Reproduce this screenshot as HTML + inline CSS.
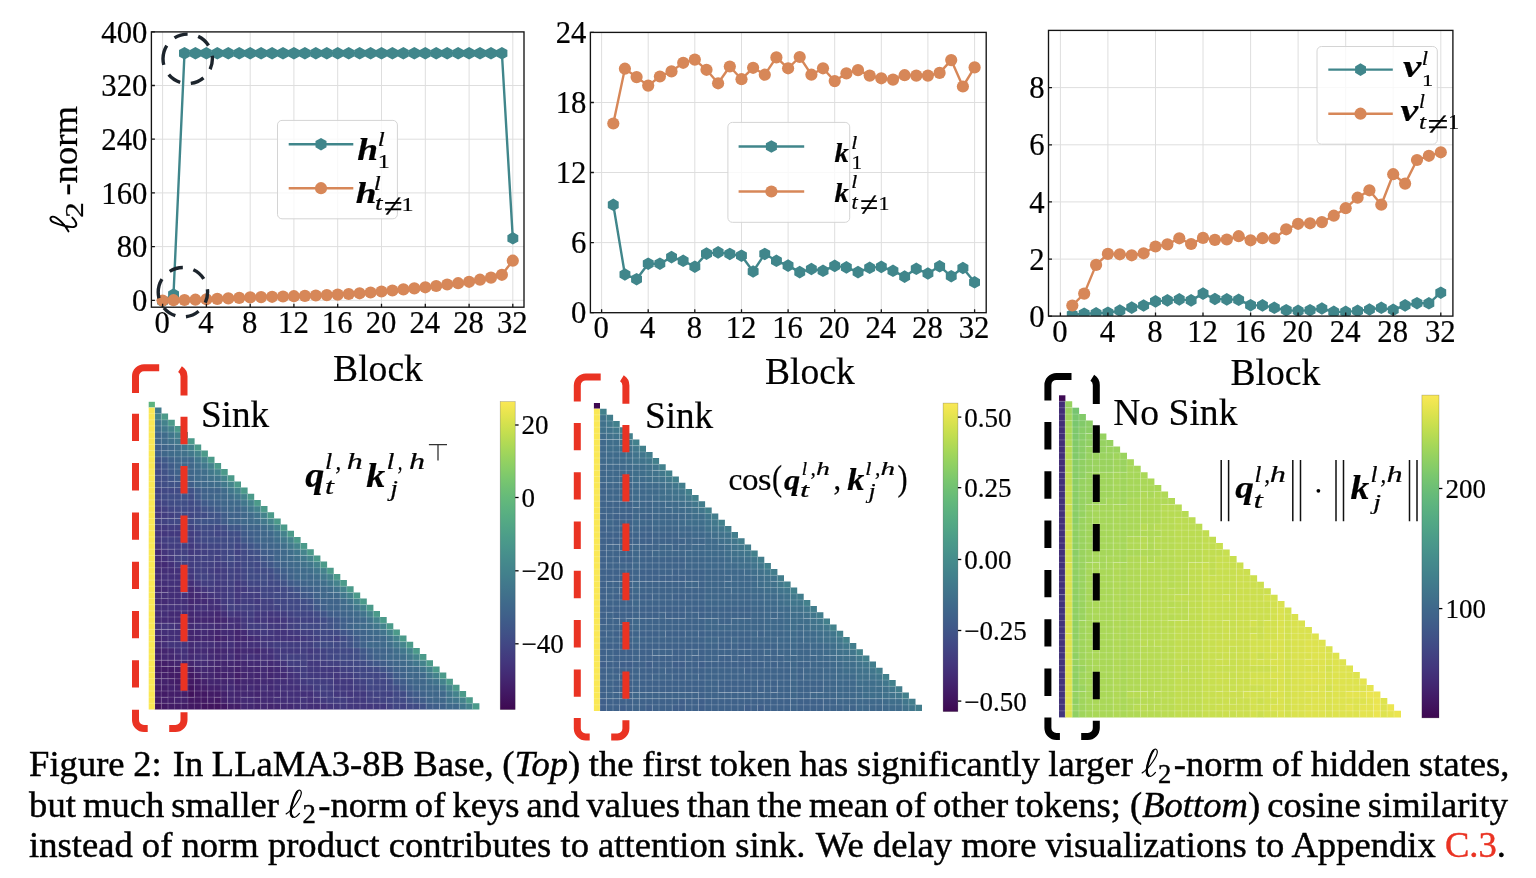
<!DOCTYPE html>
<html><head><meta charset="utf-8"><title>Figure 2</title>
<style>
html,body{margin:0;padding:0;background:#fff;}
svg,.cap{will-change:opacity;opacity:0.999;}
svg text{stroke:#000;stroke-width:0.22px;}
body{width:1536px;height:878px;position:relative;overflow:hidden;font-family:"Liberation Serif",serif;}
.cap{-webkit-text-stroke:0.45px #000;position:absolute;left:29.1px;font-size:36.6px;line-height:40px;height:40px;white-space:nowrap;color:#000;}
.cap sub{font-size:26.6px;vertical-align:baseline;position:relative;top:6.7px;line-height:0;margin-left:1px;margin-right:2.6px;}
.cap svg.ell{vertical-align:-2px;overflow:visible;opacity:1;will-change:auto;}
.cap .m{white-space:nowrap}
</style></head><body>
<svg width="1536" height="878" viewBox="0 0 1536 878" style="position:absolute;left:0;top:0" font-family="'Liberation Serif', serif" fill="#000">
<g>
<path d="M162.6,31.9V307.2M206.4,31.9V307.2M250.2,31.9V307.2M293.9,31.9V307.2M337.7,31.9V307.2M381.5,31.9V307.2M425.3,31.9V307.2M469.1,31.9V307.2M512.8,31.9V307.2M151.4,300.3H524M151.4,246.6H524M151.4,192.9H524M151.4,139.2H524M151.4,85.5H524" stroke="#dedede" stroke-width="1" fill="none"/>
<clipPath id="cp1"><rect x="151.4" y="31.9" width="372.6" height="275.3"/></clipPath>
<g clip-path="url(#cp1)">
<path d="M162.6,301.2L173.5,294.5L184.5,53.2L195.4,53.2L206.4,53.2L217.3,53.2L228.3,53.2L239.2,53.2L250.2,53.2L261.1,53.2L272.1,53.2L283,53.2L293.9,53.2L304.9,53.2L315.8,53.2L326.8,53.2L337.7,53.2L348.7,53.2L359.6,53.2L370.6,53.2L381.5,53.2L392.4,53.2L403.4,53.2L414.3,53.2L425.3,53.2L436.2,53.2L447.2,53.2L458.1,53.2L469.1,53.2L480,53.2L491,53.2L501.9,53.2L512.8,238.3" stroke="#40868b" stroke-width="2.4" fill="none" stroke-linejoin="round"/>
<path d="M162.6,294.9L168.1,298.1L168.1,304.3L162.6,307.5L157.1,304.3L157.1,298.1ZM173.5,288.2L179,291.4L179,297.6L173.5,300.8L168.1,297.6L168.1,291.4ZM184.5,46.9L189.9,50.1L189.9,56.4L184.5,59.5L179,56.4L179,50.1ZM195.4,46.9L200.9,50.1L200.9,56.4L195.4,59.5L190,56.4L190,50.1ZM206.4,46.9L211.8,50.1L211.8,56.4L206.4,59.5L200.9,56.4L200.9,50.1ZM217.3,46.9L222.8,50.1L222.8,56.4L217.3,59.5L211.9,56.4L211.9,50.1ZM228.3,46.9L233.7,50.1L233.7,56.4L228.3,59.5L222.8,56.4L222.8,50.1ZM239.2,46.9L244.7,50.1L244.7,56.4L239.2,59.5L233.8,56.4L233.8,50.1ZM250.2,46.9L255.6,50.1L255.6,56.4L250.2,59.5L244.7,56.4L244.7,50.1ZM261.1,46.9L266.6,50.1L266.6,56.4L261.1,59.5L255.6,56.4L255.6,50.1ZM272.1,46.9L277.5,50.1L277.5,56.4L272.1,59.5L266.6,56.4L266.6,50.1ZM283,46.9L288.5,50.1L288.5,56.4L283,59.5L277.5,56.4L277.5,50.1ZM293.9,46.9L299.4,50.1L299.4,56.4L293.9,59.5L288.5,56.4L288.5,50.1ZM304.9,46.9L310.3,50.1L310.3,56.4L304.9,59.5L299.4,56.4L299.4,50.1ZM315.8,46.9L321.3,50.1L321.3,56.4L315.8,59.5L310.4,56.4L310.4,50.1ZM326.8,46.9L332.2,50.1L332.2,56.4L326.8,59.5L321.3,56.4L321.3,50.1ZM337.7,46.9L343.2,50.1L343.2,56.4L337.7,59.5L332.3,56.4L332.3,50.1ZM348.7,46.9L354.1,50.1L354.1,56.4L348.7,59.5L343.2,56.4L343.2,50.1ZM359.6,46.9L365.1,50.1L365.1,56.4L359.6,59.5L354.2,56.4L354.2,50.1ZM370.6,46.9L376,50.1L376,56.4L370.6,59.5L365.1,56.4L365.1,50.1ZM381.5,46.9L387,50.1L387,56.4L381.5,59.5L376,56.4L376,50.1ZM392.4,46.9L397.9,50.1L397.9,56.4L392.4,59.5L387,56.4L387,50.1ZM403.4,46.9L408.8,50.1L408.8,56.4L403.4,59.5L397.9,56.4L397.9,50.1ZM414.3,46.9L419.8,50.1L419.8,56.4L414.3,59.5L408.9,56.4L408.9,50.1ZM425.3,46.9L430.7,50.1L430.7,56.4L425.3,59.5L419.8,56.4L419.8,50.1ZM436.2,46.9L441.7,50.1L441.7,56.4L436.2,59.5L430.8,56.4L430.8,50.1ZM447.2,46.9L452.6,50.1L452.6,56.4L447.2,59.5L441.7,56.4L441.7,50.1ZM458.1,46.9L463.6,50.1L463.6,56.4L458.1,59.5L452.7,56.4L452.7,50.1ZM469.1,46.9L474.5,50.1L474.5,56.4L469.1,59.5L463.6,56.4L463.6,50.1ZM480,46.9L485.5,50.1L485.5,56.4L480,59.5L474.5,56.4L474.5,50.1ZM491,46.9L496.4,50.1L496.4,56.4L491,59.5L485.5,56.4L485.5,50.1ZM501.9,46.9L507.4,50.1L507.4,56.4L501.9,59.5L496.4,56.4L496.4,50.1ZM512.8,232L518.3,235.2L518.3,241.5L512.8,244.6L507.4,241.5L507.4,235.2Z" fill="#40868b"/>
<path d="M162.6,300.5L173.5,300.2L184.5,300L195.4,299.7L206.4,299.3L217.3,298.9L228.3,298.4L239.2,297.9L250.2,297.4L261.1,297.1L272.1,296.8L283,296.5L293.9,296.2L304.9,295.9L315.8,295.5L326.8,295.1L337.7,294.6L348.7,294L359.6,293.3L370.6,292.5L381.5,291.5L392.4,290.5L403.4,289.4L414.3,288.4L425.3,287.3L436.2,286L447.2,284.5L458.1,283.2L469.1,281.8L480,279.7L491,277.6L501.9,274.8L512.8,260.7" stroke="#d78758" stroke-width="2.4" fill="none" stroke-linejoin="round"/>
<g fill="#d78758"><circle cx="162.6" cy="300.5" r="6.1"/><circle cx="173.5" cy="300.2" r="6.1"/><circle cx="184.5" cy="300" r="6.1"/><circle cx="195.4" cy="299.7" r="6.1"/><circle cx="206.4" cy="299.3" r="6.1"/><circle cx="217.3" cy="298.9" r="6.1"/><circle cx="228.3" cy="298.4" r="6.1"/><circle cx="239.2" cy="297.9" r="6.1"/><circle cx="250.2" cy="297.4" r="6.1"/><circle cx="261.1" cy="297.1" r="6.1"/><circle cx="272.1" cy="296.8" r="6.1"/><circle cx="283" cy="296.5" r="6.1"/><circle cx="293.9" cy="296.2" r="6.1"/><circle cx="304.9" cy="295.9" r="6.1"/><circle cx="315.8" cy="295.5" r="6.1"/><circle cx="326.8" cy="295.1" r="6.1"/><circle cx="337.7" cy="294.6" r="6.1"/><circle cx="348.7" cy="294" r="6.1"/><circle cx="359.6" cy="293.3" r="6.1"/><circle cx="370.6" cy="292.5" r="6.1"/><circle cx="381.5" cy="291.5" r="6.1"/><circle cx="392.4" cy="290.5" r="6.1"/><circle cx="403.4" cy="289.4" r="6.1"/><circle cx="414.3" cy="288.4" r="6.1"/><circle cx="425.3" cy="287.3" r="6.1"/><circle cx="436.2" cy="286" r="6.1"/><circle cx="447.2" cy="284.5" r="6.1"/><circle cx="458.1" cy="283.2" r="6.1"/><circle cx="469.1" cy="281.8" r="6.1"/><circle cx="480" cy="279.7" r="6.1"/><circle cx="491" cy="277.6" r="6.1"/><circle cx="501.9" cy="274.8" r="6.1"/><circle cx="512.8" cy="260.7" r="6.1"/></g>
</g>
<path d="M162.6,307.2v-3.5M206.4,307.2v-3.5M250.2,307.2v-3.5M293.9,307.2v-3.5M337.7,307.2v-3.5M381.5,307.2v-3.5M425.3,307.2v-3.5M469.1,307.2v-3.5M512.8,307.2v-3.5M151.4,300.3h3.5M151.4,246.6h3.5M151.4,192.9h3.5M151.4,139.2h3.5M151.4,85.5h3.5M151.4,31.8h3.5" stroke="#141414" stroke-width="1.3" fill="none"/>
<rect x="151.4" y="31.9" width="372.6" height="275.3" fill="none" stroke="#141414" stroke-width="1.35"/>
<text x="162.1" y="332.8" font-size="30.7" text-anchor="middle">0</text>
<text x="205.9" y="332.8" font-size="30.7" text-anchor="middle">4</text>
<text x="249.7" y="332.8" font-size="30.7" text-anchor="middle">8</text>
<text x="293.4" y="332.8" font-size="30.7" text-anchor="middle">12</text>
<text x="337.2" y="332.8" font-size="30.7" text-anchor="middle">16</text>
<text x="381" y="332.8" font-size="30.7" text-anchor="middle">20</text>
<text x="424.8" y="332.8" font-size="30.7" text-anchor="middle">24</text>
<text x="468.6" y="332.8" font-size="30.7" text-anchor="middle">28</text>
<text x="512.3" y="332.8" font-size="30.7" text-anchor="middle">32</text>
<text x="147.4" y="311" font-size="30.7" text-anchor="end">0</text>
<text x="147.4" y="257.3" font-size="30.7" text-anchor="end">80</text>
<text x="147.4" y="203.6" font-size="30.7" text-anchor="end">160</text>
<text x="147.4" y="149.9" font-size="30.7" text-anchor="end">240</text>
<text x="147.4" y="96.2" font-size="30.7" text-anchor="end">320</text>
<text x="147.4" y="42.5" font-size="30.7" text-anchor="end">400</text>
</g>
<g>
<path d="M601.6,32.4V312.7M648.2,32.4V312.7M694.8,32.4V312.7M741.5,32.4V312.7M788.1,32.4V312.7M834.7,32.4V312.7M881.3,32.4V312.7M927.9,32.4V312.7M974.6,32.4V312.7M590.4,242.6H986.2M590.4,172.5H986.2M590.4,102.5H986.2" stroke="#dedede" stroke-width="1" fill="none"/>
<clipPath id="cp2"><rect x="590.4" y="32.4" width="395.8" height="280.3"/></clipPath>
<g clip-path="url(#cp2)">
<path d="M613.3,204.8L624.9,274.5L636.6,279.2L648.2,263.7L659.9,263.7L671.5,257.1L683.2,260.8L694.8,266.7L706.5,253.6L718.1,252.4L729.8,254L741.5,255.7L753.1,271.5L764.8,254L776.4,260.8L788.1,265.6L799.7,272.1L811.4,269L823,270.8L834.7,265.9L846.4,267.4L858,272.1L869.7,267.8L881.3,266.9L893,270.8L904.6,276.6L916.3,268.8L927.9,273.5L939.6,266.3L951.2,276.2L962.9,268L974.6,282.3" stroke="#40868b" stroke-width="2.4" fill="none" stroke-linejoin="round"/>
<path d="M613.3,198.5L618.7,201.7L618.7,208L613.3,211.1L607.8,208L607.8,201.7ZM624.9,268.2L630.4,271.4L630.4,277.6L624.9,280.8L619.5,277.6L619.5,271.4ZM636.6,272.9L642,276.1L642,282.3L636.6,285.5L631.1,282.3L631.1,276.1ZM648.2,257.4L653.7,260.6L653.7,266.8L648.2,270L642.8,266.8L642.8,260.6ZM659.9,257.4L665.3,260.6L665.3,266.8L659.9,270L654.4,266.8L654.4,260.6ZM671.5,250.8L677,254L677,260.2L671.5,263.4L666.1,260.2L666.1,254ZM683.2,254.5L688.6,257.7L688.6,263.9L683.2,267.1L677.7,263.9L677.7,257.7ZM694.8,260.4L700.3,263.6L700.3,269.8L694.8,273L689.4,269.8L689.4,263.6ZM706.5,247.3L712,250.4L712,256.8L706.5,259.9L701,256.8L701,250.4ZM718.1,246.1L723.6,249.2L723.6,255.6L718.1,258.7L712.7,255.6L712.7,249.2ZM729.8,247.7L735.3,250.8L735.3,257.1L729.8,260.3L724.3,257.1L724.3,250.8ZM741.5,249.4L746.9,252.5L746.9,258.8L741.5,262L736,258.8L736,252.5ZM753.1,265.2L758.6,268.4L758.6,274.6L753.1,277.8L747.7,274.6L747.7,268.4ZM764.8,247.7L770.2,250.8L770.2,257.1L764.8,260.3L759.3,257.1L759.3,250.8ZM776.4,254.5L781.9,257.7L781.9,263.9L776.4,267.1L771,263.9L771,257.7ZM788.1,259.3L793.5,262.5L793.5,268.8L788.1,271.9L782.6,268.8L782.6,262.5ZM799.7,265.8L805.2,269L805.2,275.2L799.7,278.4L794.3,275.2L794.3,269ZM811.4,262.7L816.8,265.9L816.8,272.1L811.4,275.3L805.9,272.1L805.9,265.9ZM823,264.5L828.5,267.7L828.5,273.9L823,277.1L817.6,273.9L817.6,267.7ZM834.7,259.6L840.2,262.8L840.2,269L834.7,272.2L829.2,269L829.2,262.8ZM846.4,261.1L851.8,264.2L851.8,270.5L846.4,273.7L840.9,270.5L840.9,264.2ZM858,265.8L863.5,269L863.5,275.2L858,278.4L852.6,275.2L852.6,269ZM869.7,261.5L875.1,264.7L875.1,270.9L869.7,274.1L864.2,270.9L864.2,264.7ZM881.3,260.6L886.8,263.8L886.8,270L881.3,273.2L875.9,270L875.9,263.8ZM893,264.5L898.4,267.7L898.4,273.9L893,277.1L887.5,273.9L887.5,267.7ZM904.6,270.3L910.1,273.5L910.1,279.8L904.6,282.9L899.2,279.8L899.2,273.5ZM916.3,262.5L921.7,265.7L921.7,271.9L916.3,275.1L910.8,271.9L910.8,265.7ZM927.9,267.2L933.4,270.4L933.4,276.6L927.9,279.8L922.5,276.6L922.5,270.4ZM939.6,260L945.1,263.2L945.1,269.4L939.6,272.6L934.1,269.4L934.1,263.2ZM951.2,269.9L956.7,273.1L956.7,279.3L951.2,282.5L945.8,279.3L945.8,273.1ZM962.9,261.7L968.4,264.9L968.4,271.1L962.9,274.3L957.4,271.1L957.4,264.9ZM974.6,276L980,279.2L980,285.4L974.6,288.6L969.1,285.4L969.1,279.2Z" fill="#40868b"/>
<path d="M613.3,123.5L624.9,68.7L636.6,77.1L648.2,85.6L659.9,76.5L671.5,71.4L683.2,62.8L694.8,59.6L706.5,69.8L718.1,83.3L729.8,66.5L741.5,79.2L753.1,67.8L764.8,74.7L776.4,57.4L788.1,68.3L799.7,57L811.4,74.7L823,68.3L834.7,81.1L846.4,73.4L858,70.1L869.7,75.6L881.3,78.3L893,79.6L904.6,75.2L916.3,75.6L927.9,75.6L939.6,72.9L951.2,60.1L962.9,86.5L974.6,67.4" stroke="#d78758" stroke-width="2.4" fill="none" stroke-linejoin="round"/>
<g fill="#d78758"><circle cx="613.3" cy="123.5" r="6.1"/><circle cx="624.9" cy="68.7" r="6.1"/><circle cx="636.6" cy="77.1" r="6.1"/><circle cx="648.2" cy="85.6" r="6.1"/><circle cx="659.9" cy="76.5" r="6.1"/><circle cx="671.5" cy="71.4" r="6.1"/><circle cx="683.2" cy="62.8" r="6.1"/><circle cx="694.8" cy="59.6" r="6.1"/><circle cx="706.5" cy="69.8" r="6.1"/><circle cx="718.1" cy="83.3" r="6.1"/><circle cx="729.8" cy="66.5" r="6.1"/><circle cx="741.5" cy="79.2" r="6.1"/><circle cx="753.1" cy="67.8" r="6.1"/><circle cx="764.8" cy="74.7" r="6.1"/><circle cx="776.4" cy="57.4" r="6.1"/><circle cx="788.1" cy="68.3" r="6.1"/><circle cx="799.7" cy="57" r="6.1"/><circle cx="811.4" cy="74.7" r="6.1"/><circle cx="823" cy="68.3" r="6.1"/><circle cx="834.7" cy="81.1" r="6.1"/><circle cx="846.4" cy="73.4" r="6.1"/><circle cx="858" cy="70.1" r="6.1"/><circle cx="869.7" cy="75.6" r="6.1"/><circle cx="881.3" cy="78.3" r="6.1"/><circle cx="893" cy="79.6" r="6.1"/><circle cx="904.6" cy="75.2" r="6.1"/><circle cx="916.3" cy="75.6" r="6.1"/><circle cx="927.9" cy="75.6" r="6.1"/><circle cx="939.6" cy="72.9" r="6.1"/><circle cx="951.2" cy="60.1" r="6.1"/><circle cx="962.9" cy="86.5" r="6.1"/><circle cx="974.6" cy="67.4" r="6.1"/></g>
</g>
<path d="M601.6,312.7v-3.5M648.2,312.7v-3.5M694.8,312.7v-3.5M741.5,312.7v-3.5M788.1,312.7v-3.5M834.7,312.7v-3.5M881.3,312.7v-3.5M927.9,312.7v-3.5M974.6,312.7v-3.5M590.4,312.6h3.5M590.4,242.6h3.5M590.4,172.5h3.5M590.4,102.5h3.5M590.4,32.4h3.5" stroke="#141414" stroke-width="1.3" fill="none"/>
<rect x="590.4" y="32.4" width="395.8" height="280.3" fill="none" stroke="#141414" stroke-width="1.35"/>
<text x="601.1" y="338.3" font-size="30.7" text-anchor="middle">0</text>
<text x="647.7" y="338.3" font-size="30.7" text-anchor="middle">4</text>
<text x="694.3" y="338.3" font-size="30.7" text-anchor="middle">8</text>
<text x="741" y="338.3" font-size="30.7" text-anchor="middle">12</text>
<text x="787.6" y="338.3" font-size="30.7" text-anchor="middle">16</text>
<text x="834.2" y="338.3" font-size="30.7" text-anchor="middle">20</text>
<text x="880.8" y="338.3" font-size="30.7" text-anchor="middle">24</text>
<text x="927.4" y="338.3" font-size="30.7" text-anchor="middle">28</text>
<text x="974.1" y="338.3" font-size="30.7" text-anchor="middle">32</text>
<text x="586.4" y="323.3" font-size="30.7" text-anchor="end">0</text>
<text x="586.4" y="253.2" font-size="30.7" text-anchor="end">6</text>
<text x="586.4" y="183.2" font-size="30.7" text-anchor="end">12</text>
<text x="586.4" y="113.2" font-size="30.7" text-anchor="end">18</text>
<text x="586.4" y="43.1" font-size="30.7" text-anchor="end">24</text>
</g>
<g>
<path d="M1060.4,30.4V316.1M1107.9,30.4V316.1M1155.5,30.4V316.1M1203,30.4V316.1M1250.6,30.4V316.1M1298.1,30.4V316.1M1345.7,30.4V316.1M1393.2,30.4V316.1M1440.8,30.4V316.1M1048.5,259.1H1452.9M1048.5,201.9H1452.9M1048.5,144.8H1452.9M1048.5,87.6H1452.9" stroke="#dedede" stroke-width="1" fill="none"/>
<clipPath id="cp3"><rect x="1048.5" y="30.4" width="404.4" height="285.7"/></clipPath>
<g clip-path="url(#cp3)">
<path d="M1072.3,314.7L1084.2,313.7L1096.1,313.3L1107.9,312.7L1119.8,310.6L1131.7,307.6L1143.6,305.5L1155.5,301.4L1167.4,300.4L1179.3,299.4L1191.1,300.4L1203,293.6L1214.9,299L1226.8,299.4L1238.7,299.8L1250.6,305.2L1262.5,305.4L1274.3,307.8L1286.2,310.2L1298.1,310.9L1310,310.2L1321.9,308.5L1333.8,311.9L1345.7,311.9L1357.6,310.9L1369.4,309.5L1381.3,307.8L1393.2,309.9L1405.1,305.4L1417,303.2L1428.9,303.3L1440.8,292.7" stroke="#40868b" stroke-width="2.4" fill="none" stroke-linejoin="round"/>
<path d="M1072.3,308.4L1077.7,311.6L1077.7,317.8L1072.3,321L1066.8,317.8L1066.8,311.6ZM1084.2,307.4L1089.6,310.6L1089.6,316.8L1084.2,320L1078.7,316.8L1078.7,310.6ZM1096.1,307L1101.5,310.2L1101.5,316.4L1096.1,319.6L1090.6,316.4L1090.6,310.2ZM1107.9,306.4L1113.4,309.6L1113.4,315.8L1107.9,319L1102.5,315.8L1102.5,309.6ZM1119.8,304.3L1125.3,307.5L1125.3,313.8L1119.8,316.9L1114.4,313.8L1114.4,307.5ZM1131.7,301.3L1137.2,304.5L1137.2,310.8L1131.7,313.9L1126.3,310.8L1126.3,304.5ZM1143.6,299.2L1149.1,302.4L1149.1,308.6L1143.6,311.8L1138.1,308.6L1138.1,302.4ZM1155.5,295.1L1160.9,298.2L1160.9,304.5L1155.5,307.7L1150,304.5L1150,298.2ZM1167.4,294.1L1172.8,297.2L1172.8,303.5L1167.4,306.7L1161.9,303.5L1161.9,297.2ZM1179.3,293.1L1184.7,296.2L1184.7,302.5L1179.3,305.7L1173.8,302.5L1173.8,296.2ZM1191.1,294.1L1196.6,297.2L1196.6,303.5L1191.1,306.7L1185.7,303.5L1185.7,297.2ZM1203,287.3L1208.5,290.5L1208.5,296.8L1203,299.9L1197.6,296.8L1197.6,290.5ZM1214.9,292.7L1220.4,295.9L1220.4,302.1L1214.9,305.3L1209.5,302.1L1209.5,295.9ZM1226.8,293.1L1232.3,296.2L1232.3,302.5L1226.8,305.7L1221.3,302.5L1221.3,296.2ZM1238.7,293.5L1244.1,296.7L1244.1,302.9L1238.7,306.1L1233.2,302.9L1233.2,296.7ZM1250.6,298.9L1256,302.1L1256,308.3L1250.6,311.5L1245.1,308.3L1245.1,302.1ZM1262.5,299.1L1267.9,302.2L1267.9,308.5L1262.5,311.7L1257,308.5L1257,302.2ZM1274.3,301.5L1279.8,304.7L1279.8,310.9L1274.3,314.1L1268.9,310.9L1268.9,304.7ZM1286.2,303.9L1291.7,307.1L1291.7,313.3L1286.2,316.5L1280.8,313.3L1280.8,307.1ZM1298.1,304.6L1303.6,307.8L1303.6,314L1298.1,317.2L1292.7,314L1292.7,307.8ZM1310,303.9L1315.5,307.1L1315.5,313.3L1310,316.5L1304.6,313.3L1304.6,307.1ZM1321.9,302.2L1327.3,305.4L1327.3,311.6L1321.9,314.8L1316.4,311.6L1316.4,305.4ZM1333.8,305.6L1339.2,308.8L1339.2,315L1333.8,318.2L1328.3,315L1328.3,308.8ZM1345.7,305.6L1351.1,308.8L1351.1,315L1345.7,318.2L1340.2,315L1340.2,308.8ZM1357.6,304.6L1363,307.8L1363,314L1357.6,317.2L1352.1,314L1352.1,307.8ZM1369.4,303.2L1374.9,306.4L1374.9,312.6L1369.4,315.8L1364,312.6L1364,306.4ZM1381.3,301.5L1386.8,304.7L1386.8,310.9L1381.3,314.1L1375.9,310.9L1375.9,304.7ZM1393.2,303.6L1398.7,306.8L1398.7,313L1393.2,316.2L1387.8,313L1387.8,306.8ZM1405.1,299.1L1410.5,302.2L1410.5,308.5L1405.1,311.7L1399.6,308.5L1399.6,302.2ZM1417,296.9L1422.4,300.1L1422.4,306.3L1417,309.5L1411.5,306.3L1411.5,300.1ZM1428.9,297L1434.3,300.2L1434.3,306.4L1428.9,309.6L1423.4,306.4L1423.4,300.2ZM1440.8,286.4L1446.2,289.6L1446.2,295.8L1440.8,299L1435.3,295.8L1435.3,289.6Z" fill="#40868b"/>
<path d="M1072.3,305.5L1084.2,293.6L1096.1,264.9L1107.9,253.9L1119.8,254.3L1131.7,255.3L1143.6,253.3L1155.5,246.5L1167.4,244.4L1179.3,238.3L1191.1,244L1203,237.9L1214.9,239.9L1226.8,239.5L1238.7,236.2L1250.6,240.3L1262.5,238.2L1274.3,238.4L1286.2,229.3L1298.1,223.8L1310,223.3L1321.9,222.1L1333.8,215.7L1345.7,208.2L1357.6,197.7L1369.4,190.3L1381.3,204.7L1393.2,174.2L1405.1,183.6L1417,160L1428.9,155.8L1440.8,152.3" stroke="#d78758" stroke-width="2.4" fill="none" stroke-linejoin="round"/>
<g fill="#d78758"><circle cx="1072.3" cy="305.5" r="6.1"/><circle cx="1084.2" cy="293.6" r="6.1"/><circle cx="1096.1" cy="264.9" r="6.1"/><circle cx="1107.9" cy="253.9" r="6.1"/><circle cx="1119.8" cy="254.3" r="6.1"/><circle cx="1131.7" cy="255.3" r="6.1"/><circle cx="1143.6" cy="253.3" r="6.1"/><circle cx="1155.5" cy="246.5" r="6.1"/><circle cx="1167.4" cy="244.4" r="6.1"/><circle cx="1179.3" cy="238.3" r="6.1"/><circle cx="1191.1" cy="244" r="6.1"/><circle cx="1203" cy="237.9" r="6.1"/><circle cx="1214.9" cy="239.9" r="6.1"/><circle cx="1226.8" cy="239.5" r="6.1"/><circle cx="1238.7" cy="236.2" r="6.1"/><circle cx="1250.6" cy="240.3" r="6.1"/><circle cx="1262.5" cy="238.2" r="6.1"/><circle cx="1274.3" cy="238.4" r="6.1"/><circle cx="1286.2" cy="229.3" r="6.1"/><circle cx="1298.1" cy="223.8" r="6.1"/><circle cx="1310" cy="223.3" r="6.1"/><circle cx="1321.9" cy="222.1" r="6.1"/><circle cx="1333.8" cy="215.7" r="6.1"/><circle cx="1345.7" cy="208.2" r="6.1"/><circle cx="1357.6" cy="197.7" r="6.1"/><circle cx="1369.4" cy="190.3" r="6.1"/><circle cx="1381.3" cy="204.7" r="6.1"/><circle cx="1393.2" cy="174.2" r="6.1"/><circle cx="1405.1" cy="183.6" r="6.1"/><circle cx="1417" cy="160" r="6.1"/><circle cx="1428.9" cy="155.8" r="6.1"/><circle cx="1440.8" cy="152.3" r="6.1"/></g>
</g>
<path d="M1060.4,316.1v-3.5M1107.9,316.1v-3.5M1155.5,316.1v-3.5M1203,316.1v-3.5M1250.6,316.1v-3.5M1298.1,316.1v-3.5M1345.7,316.1v-3.5M1393.2,316.1v-3.5M1440.8,316.1v-3.5M1048.5,316.2h3.5M1048.5,259.1h3.5M1048.5,201.9h3.5M1048.5,144.8h3.5M1048.5,87.6h3.5" stroke="#141414" stroke-width="1.3" fill="none"/>
<rect x="1048.5" y="30.4" width="404.4" height="285.7" fill="none" stroke="#141414" stroke-width="1.35"/>
<text x="1059.9" y="341.7" font-size="30.7" text-anchor="middle">0</text>
<text x="1107.4" y="341.7" font-size="30.7" text-anchor="middle">4</text>
<text x="1155" y="341.7" font-size="30.7" text-anchor="middle">8</text>
<text x="1202.5" y="341.7" font-size="30.7" text-anchor="middle">12</text>
<text x="1250.1" y="341.7" font-size="30.7" text-anchor="middle">16</text>
<text x="1297.6" y="341.7" font-size="30.7" text-anchor="middle">20</text>
<text x="1345.2" y="341.7" font-size="30.7" text-anchor="middle">24</text>
<text x="1392.7" y="341.7" font-size="30.7" text-anchor="middle">28</text>
<text x="1440.3" y="341.7" font-size="30.7" text-anchor="middle">32</text>
<text x="1044.5" y="326.9" font-size="30.7" text-anchor="end">0</text>
<text x="1044.5" y="269.8" font-size="30.7" text-anchor="end">2</text>
<text x="1044.5" y="212.6" font-size="30.7" text-anchor="end">4</text>
<text x="1044.5" y="155.4" font-size="30.7" text-anchor="end">6</text>
<text x="1044.5" y="98.3" font-size="30.7" text-anchor="end">8</text>
</g>
<path d="M163,58.8A24.7,24.7 0 1 1 212.4,58.8A24.7,24.7 0 1 1 163,58.8" fill="none" stroke="#1c242c" stroke-width="3.4" stroke-dasharray="13.8 10.87"/>
<path d="M158.2,292.2A24.7,24.7 0 1 1 207.6,292.2A24.7,24.7 0 1 1 158.2,292.2" fill="none" stroke="#1c242c" stroke-width="3.4" stroke-dasharray="13.8 10.87"/>
<rect x="277.5" y="120.4" width="119.9" height="98.4" rx="4.5" fill="#fff" fill-opacity="0.8" stroke="#d4d4d4" stroke-width="1"/>
<path d="M288.7,144.2H353.3" stroke="#40868b" stroke-width="2.4"/>
<path d="M321,137.9L326.5,141L326.5,147.3L321,150.5L315.5,147.3L315.5,141Z" fill="#40868b"/>
<path d="M288.7,188.2H353.3" stroke="#d78758" stroke-width="2.4"/>
<circle cx="321" cy="188.2" r="6.1" fill="#d78758"/>
<rect x="727.9" y="122.4" width="121.8" height="99.9" rx="4.5" fill="#fff" fill-opacity="0.8" stroke="#d4d4d4" stroke-width="1"/>
<path d="M738.6,146.5H804.2" stroke="#40868b" stroke-width="2.4"/>
<path d="M771.4,140.2L776.9,143.3L776.9,149.7L771.4,152.8L765.9,149.7L765.9,143.3Z" fill="#40868b"/>
<path d="M738.6,191.5H804.2" stroke="#d78758" stroke-width="2.4"/>
<circle cx="771.4" cy="191.5" r="6.1" fill="#d78758"/>
<rect x="1317" y="46.5" width="120.3" height="97.7" rx="4.5" fill="#fff" fill-opacity="0.8" stroke="#d4d4d4" stroke-width="1"/>
<path d="M1328.3,69.6H1392.8" stroke="#40868b" stroke-width="2.4"/>
<path d="M1360.5,63.3L1366,66.4L1366,72.8L1360.5,75.9L1355.1,72.8L1355.1,66.4Z" fill="#40868b"/>
<path d="M1328.3,113.7H1392.8" stroke="#d78758" stroke-width="2.4"/>
<circle cx="1360.5" cy="113.7" r="6.1" fill="#d78758"/>
<path d="M187.8,691h6.8v6.3h-6.8zM154.7,703.3h6.8v6.3h-6.8z" fill="#40125c"/>
<path d="M187.8,684.8h6.8v6.3h-6.8zM201.1,703.3h20v6.3h-20z" fill="#41145f"/>
<path d="M187.8,672.5h6.8v6.3h-6.8zM187.8,678.7h6.8v6.3h-6.8zM194.4,691h13.4v6.3h-13.4zM187.8,697.2h20v6.3h-20zM214.3,697.2h6.8v6.3h-6.8zM161.3,703.3h6.8v6.3h-6.8zM187.8,703.3h13.4v6.3h-13.4zM220.9,703.3h6.8v6.3h-6.8z" fill="#421863"/>
<path d="M154.7,660.2h6.8v6.3h-6.8zM154.7,666.4h20v6.3h-20zM187.8,666.4h6.8v6.3h-6.8zM154.7,672.5h6.8v6.3h-6.8zM168,672.5h20v6.3h-20zM174.6,678.7h13.4v6.3h-13.4zM194.4,678.7h6.8v6.3h-6.8zM154.7,684.8h6.8v6.3h-6.8zM181.2,684.8h6.8v6.3h-6.8zM194.4,684.8h6.8v6.3h-6.8zM154.7,691h13.4v6.3h-13.4zM207.7,691h13.4v6.3h-13.4zM154.7,697.2h6.8v6.3h-6.8zM207.7,697.2h6.8v6.3h-6.8zM168,703.3h20v6.3h-20z" fill="#421b66"/>
<path d="M161.3,660.2h6.8v6.3h-6.8zM174.6,666.4h13.4v6.3h-13.4zM161.3,672.5h6.8v6.3h-6.8zM194.4,672.5h6.8v6.3h-6.8zM234.2,672.5h6.8v6.3h-6.8zM154.7,678.7h6.8v6.3h-6.8zM168,678.7h6.8v6.3h-6.8zM161.3,684.8h6.8v6.3h-6.8zM174.6,684.8h6.8v6.3h-6.8zM201.1,684.8h6.8v6.3h-6.8zM168,691h20v6.3h-20zM161.3,697.2h13.4v6.3h-13.4zM227.6,703.3h13.4v6.3h-13.4z" fill="#431e69"/>
<path d="M214.3,635.5h6.8v6.3h-6.8zM154.7,647.9h6.8v6.3h-6.8zM154.7,654h6.8v6.3h-6.8zM168,660.2h6.8v6.3h-6.8zM214.3,666.4h6.8v6.3h-6.8zM234.2,666.4h6.8v6.3h-6.8zM214.3,672.5h13.4v6.3h-13.4zM161.3,678.7h6.8v6.3h-6.8zM201.1,678.7h6.8v6.3h-6.8zM234.2,678.7h6.8v6.3h-6.8zM168,684.8h6.8v6.3h-6.8zM207.7,684.8h13.4v6.3h-13.4zM220.9,691h6.8v6.3h-6.8zM174.6,697.2h13.4v6.3h-13.4zM220.9,697.2h6.8v6.3h-6.8z" fill="#43216c"/>
<path d="M187.8,617h6.8v6.3h-6.8zM214.3,617h6.8v6.3h-6.8zM187.8,629.4h6.8v6.3h-6.8zM214.3,629.4h6.8v6.3h-6.8zM234.2,629.4h6.8v6.3h-6.8zM154.7,635.5h6.8v6.3h-6.8zM187.8,635.5h13.4v6.3h-13.4zM220.9,635.5h6.8v6.3h-6.8zM234.2,635.5h6.8v6.3h-6.8zM161.3,647.9h6.8v6.3h-6.8zM214.3,647.9h6.8v6.3h-6.8zM234.2,647.9h6.8v6.3h-6.8zM174.6,660.2h6.8v6.3h-6.8zM187.8,660.2h6.8v6.3h-6.8zM214.3,660.2h13.4v6.3h-13.4zM234.2,660.2h6.8v6.3h-6.8zM194.4,666.4h6.8v6.3h-6.8zM207.7,666.4h6.8v6.3h-6.8zM220.9,666.4h13.4v6.3h-13.4zM201.1,672.5h13.4v6.3h-13.4zM227.6,672.5h6.8v6.3h-6.8zM240.8,672.5h6.8v6.3h-6.8zM254,672.5h6.8v6.3h-6.8zM207.7,678.7h20v6.3h-20zM234.2,684.8h6.8v6.3h-6.8zM234.2,691h6.8v6.3h-6.8zM254,691h6.8v6.3h-6.8zM234.2,697.2h6.8v6.3h-6.8zM254,703.3h6.8v6.3h-6.8zM267.3,703.3h6.8v6.3h-6.8z" fill="#43256f"/>
<path d="M154.7,549.2h6.8v6.3h-6.8zM154.7,586.2h6.8v6.3h-6.8zM187.8,586.2h6.8v6.3h-6.8zM187.8,592.4h6.8v6.3h-6.8zM187.8,598.5h6.8v6.3h-6.8zM187.8,610.9h6.8v6.3h-6.8zM214.3,610.9h6.8v6.3h-6.8zM194.4,617h20v6.3h-20zM220.9,617h6.8v6.3h-6.8zM194.4,629.4h6.8v6.3h-6.8zM207.7,629.4h6.8v6.3h-6.8zM201.1,635.5h13.4v6.3h-13.4zM240.8,635.5h6.8v6.3h-6.8zM154.7,641.7h6.8v6.3h-6.8zM168,647.9h6.8v6.3h-6.8zM187.8,647.9h6.8v6.3h-6.8zM207.7,647.9h6.8v6.3h-6.8zM220.9,647.9h6.8v6.3h-6.8zM254,647.9h6.8v6.3h-6.8zM161.3,654h13.4v6.3h-13.4zM214.3,654h6.8v6.3h-6.8zM234.2,654h6.8v6.3h-6.8zM181.2,660.2h6.8v6.3h-6.8zM207.7,660.2h6.8v6.3h-6.8zM227.6,660.2h6.8v6.3h-6.8zM240.8,660.2h6.8v6.3h-6.8zM201.1,666.4h6.8v6.3h-6.8zM240.8,666.4h20v6.3h-20zM267.3,666.4h6.8v6.3h-6.8zM247.4,672.5h6.8v6.3h-6.8zM267.3,672.5h6.8v6.3h-6.8zM227.6,678.7h6.8v6.3h-6.8zM240.8,678.7h20v6.3h-20zM220.9,684.8h6.8v6.3h-6.8zM240.8,684.8h6.8v6.3h-6.8zM254,684.8h6.8v6.3h-6.8zM227.6,691h6.8v6.3h-6.8zM240.8,691h13.4v6.3h-13.4zM227.6,697.2h6.8v6.3h-6.8zM254,697.2h6.8v6.3h-6.8zM240.8,703.3h13.4v6.3h-13.4zM260.7,703.3h6.8v6.3h-6.8zM273.9,703.3h6.8v6.3h-6.8z" fill="#432771"/>
<path d="M154.7,555.4h6.8v6.3h-6.8zM154.7,561.6h13.4v6.3h-13.4zM154.7,567.7h6.8v6.3h-6.8zM154.7,573.9h6.8v6.3h-6.8zM154.7,580.1h6.8v6.3h-6.8zM161.3,586.2h6.8v6.3h-6.8zM154.7,592.4h6.8v6.3h-6.8zM194.4,592.4h6.8v6.3h-6.8zM154.7,598.5h13.4v6.3h-13.4zM194.4,598.5h13.4v6.3h-13.4zM187.8,604.7h6.8v6.3h-6.8zM154.7,610.9h6.8v6.3h-6.8zM168,610.9h13.4v6.3h-13.4zM194.4,610.9h20v6.3h-20zM154.7,617h33.3v6.3h-33.3zM187.8,623.2h6.8v6.3h-6.8zM214.3,623.2h6.8v6.3h-6.8zM154.7,629.4h6.8v6.3h-6.8zM201.1,629.4h6.8v6.3h-6.8zM220.9,629.4h13.4v6.3h-13.4zM240.8,629.4h6.8v6.3h-6.8zM161.3,635.5h6.8v6.3h-6.8zM181.2,635.5h6.8v6.3h-6.8zM227.6,635.5h6.8v6.3h-6.8zM247.4,635.5h6.8v6.3h-6.8zM187.8,641.7h6.8v6.3h-6.8zM214.3,641.7h6.8v6.3h-6.8zM234.2,641.7h6.8v6.3h-6.8zM194.4,647.9h13.4v6.3h-13.4zM227.6,647.9h6.8v6.3h-6.8zM240.8,647.9h13.4v6.3h-13.4zM174.6,654h6.8v6.3h-6.8zM187.8,654h6.8v6.3h-6.8zM207.7,654h6.8v6.3h-6.8zM220.9,654h6.8v6.3h-6.8zM194.4,660.2h13.4v6.3h-13.4zM247.4,660.2h13.4v6.3h-13.4zM267.3,660.2h6.8v6.3h-6.8zM260.7,666.4h6.8v6.3h-6.8zM273.9,666.4h6.8v6.3h-6.8zM260.7,672.5h6.8v6.3h-6.8zM273.9,672.5h13.4v6.3h-13.4zM260.7,678.7h13.4v6.3h-13.4zM227.6,684.8h6.8v6.3h-6.8zM247.4,684.8h6.8v6.3h-6.8zM267.3,684.8h6.8v6.3h-6.8zM260.7,691h20v6.3h-20zM240.8,697.2h13.4v6.3h-13.4zM260.7,697.2h13.4v6.3h-13.4zM280.5,703.3h13.4v6.3h-13.4z" fill="#432a74"/>
<path d="M161.3,567.7h13.4v6.3h-13.4zM161.3,580.1h6.8v6.3h-6.8zM187.8,580.1h6.8v6.3h-6.8zM168,586.2h20v6.3h-20zM194.4,586.2h6.8v6.3h-6.8zM161.3,592.4h20v6.3h-20zM201.1,592.4h6.8v6.3h-6.8zM168,598.5h20v6.3h-20zM207.7,598.5h6.8v6.3h-6.8zM154.7,604.7h13.4v6.3h-13.4zM207.7,604.7h13.4v6.3h-13.4zM161.3,610.9h6.8v6.3h-6.8zM181.2,610.9h6.8v6.3h-6.8zM220.9,610.9h6.8v6.3h-6.8zM227.6,617h13.4v6.3h-13.4zM194.4,623.2h20v6.3h-20zM220.9,623.2h6.8v6.3h-6.8zM234.2,623.2h6.8v6.3h-6.8zM161.3,629.4h26.6v6.3h-26.6zM168,635.5h13.4v6.3h-13.4zM254,635.5h6.8v6.3h-6.8zM161.3,641.7h6.8v6.3h-6.8zM194.4,641.7h20v6.3h-20zM220.9,641.7h6.8v6.3h-6.8zM240.8,641.7h6.8v6.3h-6.8zM174.6,647.9h6.8v6.3h-6.8zM260.7,647.9h6.8v6.3h-6.8zM194.4,654h13.4v6.3h-13.4zM227.6,654h6.8v6.3h-6.8zM240.8,654h6.8v6.3h-6.8zM254,654h6.8v6.3h-6.8zM260.7,660.2h6.8v6.3h-6.8zM273.9,660.2h6.8v6.3h-6.8zM280.5,666.4h6.8v6.3h-6.8zM273.9,678.7h13.4v6.3h-13.4zM260.7,684.8h6.8v6.3h-6.8zM273.9,684.8h6.8v6.3h-6.8zM280.5,691h6.8v6.3h-6.8zM273.9,697.2h13.4v6.3h-13.4zM293.8,703.3h6.8v6.3h-6.8zM307,703.3h13.4v6.3h-13.4z" fill="#432e77"/>
<path d="M154.7,543.1h6.8v6.3h-6.8zM161.3,555.4h6.8v6.3h-6.8zM168,561.6h6.8v6.3h-6.8zM174.6,567.7h6.8v6.3h-6.8zM161.3,573.9h20v6.3h-20zM168,580.1h20v6.3h-20zM181.2,592.4h6.8v6.3h-6.8zM214.3,598.5h6.8v6.3h-6.8zM168,604.7h20v6.3h-20zM194.4,604.7h13.4v6.3h-13.4zM154.7,623.2h6.8v6.3h-6.8zM174.6,623.2h13.4v6.3h-13.4zM227.6,623.2h6.8v6.3h-6.8zM227.6,641.7h6.8v6.3h-6.8zM247.4,641.7h13.4v6.3h-13.4zM181.2,647.9h6.8v6.3h-6.8zM267.3,647.9h6.8v6.3h-6.8zM181.2,654h6.8v6.3h-6.8zM247.4,654h6.8v6.3h-6.8zM260.7,654h13.4v6.3h-13.4zM287.2,672.5h6.8v6.3h-6.8zM287.2,678.7h6.8v6.3h-6.8zM280.5,684.8h20v6.3h-20zM287.2,691h26.6v6.3h-26.6zM287.2,697.2h13.4v6.3h-13.4zM307,697.2h6.8v6.3h-6.8zM300.4,703.3h6.8v6.3h-6.8zM320.3,703.3h6.8v6.3h-6.8z" fill="#433079"/>
<path d="M154.7,530.7h6.8v6.3h-6.8zM161.3,549.2h6.8v6.3h-6.8zM201.1,586.2h6.8v6.3h-6.8zM207.7,592.4h6.8v6.3h-6.8zM234.2,610.9h6.8v6.3h-6.8zM254,617h6.8v6.3h-6.8zM267.3,617h13.4v6.3h-13.4zM161.3,623.2h13.4v6.3h-13.4zM247.4,629.4h13.4v6.3h-13.4zM273.9,629.4h13.4v6.3h-13.4zM260.7,635.5h39.9v6.3h-39.9zM168,641.7h20v6.3h-20zM280.5,660.2h6.8v6.3h-6.8zM287.2,666.4h6.8v6.3h-6.8zM293.8,672.5h6.8v6.3h-6.8zM293.8,678.7h6.8v6.3h-6.8zM300.4,697.2h6.8v6.3h-6.8zM313.6,697.2h6.8v6.3h-6.8zM326.9,703.3h6.8v6.3h-6.8z" fill="#43347b"/>
<path d="M154.7,512.2h6.8v6.3h-6.8zM154.7,524.6h6.8v6.3h-6.8zM161.3,530.7h6.8v6.3h-6.8zM154.7,536.9h6.8v6.3h-6.8zM168,555.4h6.8v6.3h-6.8zM181.2,573.9h13.4v6.3h-13.4zM194.4,580.1h6.8v6.3h-6.8zM214.3,586.2h6.8v6.3h-6.8zM234.2,586.2h6.8v6.3h-6.8zM214.3,592.4h6.8v6.3h-6.8zM234.2,592.4h6.8v6.3h-6.8zM234.2,598.5h6.8v6.3h-6.8zM220.9,604.7h6.8v6.3h-6.8zM227.6,610.9h6.8v6.3h-6.8zM254,610.9h6.8v6.3h-6.8zM267.3,610.9h6.8v6.3h-6.8zM240.8,617h6.8v6.3h-6.8zM260.7,617h6.8v6.3h-6.8zM280.5,617h6.8v6.3h-6.8zM240.8,623.2h6.8v6.3h-6.8zM267.3,629.4h6.8v6.3h-6.8zM287.2,629.4h6.8v6.3h-6.8zM260.7,641.7h6.8v6.3h-6.8zM273.9,647.9h6.8v6.3h-6.8zM273.9,654h6.8v6.3h-6.8zM333.5,672.5h6.8v6.3h-6.8zM333.5,678.7h6.8v6.3h-6.8zM300.4,684.8h13.4v6.3h-13.4zM313.6,691h6.8v6.3h-6.8zM333.5,691h6.8v6.3h-6.8zM346.8,691h6.8v6.3h-6.8zM333.5,703.3h6.8v6.3h-6.8zM346.8,703.3h26.6v6.3h-26.6z" fill="#43377d"/>
<path d="M154.7,506.1h6.8v6.3h-6.8zM161.3,524.6h6.8v6.3h-6.8zM168,530.7h13.4v6.3h-13.4zM161.3,543.1h6.8v6.3h-6.8zM187.8,543.1h6.8v6.3h-6.8zM168,549.2h6.8v6.3h-6.8zM187.8,549.2h6.8v6.3h-6.8zM174.6,561.6h6.8v6.3h-6.8zM181.2,567.7h13.4v6.3h-13.4zM214.3,567.7h6.8v6.3h-6.8zM214.3,580.1h6.8v6.3h-6.8zM234.2,580.1h6.8v6.3h-6.8zM207.7,586.2h6.8v6.3h-6.8zM220.9,586.2h6.8v6.3h-6.8zM240.8,586.2h6.8v6.3h-6.8zM220.9,592.4h6.8v6.3h-6.8zM220.9,598.5h6.8v6.3h-6.8zM254,598.5h6.8v6.3h-6.8zM240.8,610.9h6.8v6.3h-6.8zM260.7,610.9h6.8v6.3h-6.8zM273.9,610.9h6.8v6.3h-6.8zM247.4,617h6.8v6.3h-6.8zM267.3,623.2h20v6.3h-20zM260.7,629.4h6.8v6.3h-6.8zM293.8,629.4h6.8v6.3h-6.8zM300.4,635.5h6.8v6.3h-6.8zM267.3,641.7h6.8v6.3h-6.8zM280.5,647.9h20v6.3h-20zM307,647.9h6.8v6.3h-6.8zM307,660.2h13.4v6.3h-13.4zM293.8,666.4h6.8v6.3h-6.8zM307,666.4h33.3v6.3h-33.3zM307,672.5h26.6v6.3h-26.6zM300.4,678.7h6.8v6.3h-6.8zM340.1,678.7h13.4v6.3h-13.4zM333.5,684.8h20v6.3h-20zM340.1,691h6.8v6.3h-6.8zM353.4,691h13.4v6.3h-13.4zM320.3,697.2h6.8v6.3h-6.8zM346.8,697.2h20v6.3h-20zM340.1,703.3h6.8v6.3h-6.8zM373.2,703.3h13.4v6.3h-13.4z" fill="#42397e"/>
<path d="M161.3,512.2h6.8v6.3h-6.8zM168,524.6h13.4v6.3h-13.4zM181.2,530.7h13.4v6.3h-13.4zM161.3,536.9h6.8v6.3h-6.8zM187.8,536.9h6.8v6.3h-6.8zM168,543.1h13.4v6.3h-13.4zM174.6,549.2h6.8v6.3h-6.8zM194.4,549.2h6.8v6.3h-6.8zM187.8,555.4h6.8v6.3h-6.8zM187.8,561.6h6.8v6.3h-6.8zM214.3,561.6h6.8v6.3h-6.8zM207.7,567.7h6.8v6.3h-6.8zM220.9,567.7h6.8v6.3h-6.8zM214.3,573.9h13.4v6.3h-13.4zM201.1,580.1h13.4v6.3h-13.4zM220.9,580.1h6.8v6.3h-6.8zM227.6,586.2h6.8v6.3h-6.8zM227.6,592.4h6.8v6.3h-6.8zM240.8,592.4h20v6.3h-20zM227.6,598.5h6.8v6.3h-6.8zM240.8,598.5h13.4v6.3h-13.4zM234.2,604.7h6.8v6.3h-6.8zM254,604.7h6.8v6.3h-6.8zM247.4,610.9h6.8v6.3h-6.8zM280.5,610.9h6.8v6.3h-6.8zM287.2,617h6.8v6.3h-6.8zM247.4,623.2h20v6.3h-20zM307,635.5h6.8v6.3h-6.8zM273.9,641.7h26.6v6.3h-26.6zM300.4,647.9h6.8v6.3h-6.8zM313.6,647.9h6.8v6.3h-6.8zM280.5,654h6.8v6.3h-6.8zM307,654h6.8v6.3h-6.8zM287.2,660.2h13.4v6.3h-13.4zM320.3,660.2h6.8v6.3h-6.8zM300.4,666.4h6.8v6.3h-6.8zM300.4,672.5h6.8v6.3h-6.8zM340.1,672.5h13.4v6.3h-13.4zM307,678.7h26.6v6.3h-26.6zM313.6,684.8h6.8v6.3h-6.8zM326.9,684.8h6.8v6.3h-6.8zM353.4,684.8h6.8v6.3h-6.8zM320.3,691h13.4v6.3h-13.4zM326.9,697.2h20v6.3h-20z" fill="#423d80"/>
<path d="M154.7,499.9h6.8v6.3h-6.8zM161.3,506.1h6.8v6.3h-6.8zM168,512.2h6.8v6.3h-6.8zM154.7,518.4h6.8v6.3h-6.8zM168,536.9h13.4v6.3h-13.4zM181.2,543.1h6.8v6.3h-6.8zM194.4,543.1h6.8v6.3h-6.8zM181.2,549.2h6.8v6.3h-6.8zM201.1,549.2h6.8v6.3h-6.8zM174.6,555.4h6.8v6.3h-6.8zM194.4,555.4h6.8v6.3h-6.8zM214.3,555.4h6.8v6.3h-6.8zM181.2,561.6h6.8v6.3h-6.8zM194.4,561.6h20v6.3h-20zM220.9,561.6h6.8v6.3h-6.8zM194.4,567.7h13.4v6.3h-13.4zM234.2,567.7h6.8v6.3h-6.8zM194.4,573.9h6.8v6.3h-6.8zM207.7,573.9h6.8v6.3h-6.8zM234.2,573.9h6.8v6.3h-6.8zM227.6,580.1h6.8v6.3h-6.8zM240.8,580.1h6.8v6.3h-6.8zM247.4,586.2h13.4v6.3h-13.4zM260.7,598.5h13.4v6.3h-13.4zM227.6,604.7h6.8v6.3h-6.8zM240.8,604.7h13.4v6.3h-13.4zM260.7,604.7h13.4v6.3h-13.4zM293.8,617h6.8v6.3h-6.8zM287.2,623.2h6.8v6.3h-6.8zM300.4,629.4h13.4v6.3h-13.4zM313.6,635.5h6.8v6.3h-6.8zM300.4,641.7h13.4v6.3h-13.4zM287.2,654h20v6.3h-20zM313.6,654h6.8v6.3h-6.8zM300.4,660.2h6.8v6.3h-6.8zM326.9,660.2h13.4v6.3h-13.4zM340.1,666.4h6.8v6.3h-6.8zM353.4,678.7h6.8v6.3h-6.8zM320.3,684.8h6.8v6.3h-6.8zM360,684.8h6.8v6.3h-6.8zM366.6,691h6.8v6.3h-6.8zM366.6,697.2h13.4v6.3h-13.4zM386.5,703.3h6.8v6.3h-6.8z" fill="#424081"/>
<path d="M154.7,487.6h6.8v6.3h-6.8zM161.3,518.4h6.8v6.3h-6.8zM181.2,524.6h13.4v6.3h-13.4zM194.4,530.7h6.8v6.3h-6.8zM181.2,536.9h6.8v6.3h-6.8zM201.1,543.1h6.8v6.3h-6.8zM207.7,549.2h13.4v6.3h-13.4zM234.2,549.2h6.8v6.3h-6.8zM181.2,555.4h6.8v6.3h-6.8zM201.1,555.4h13.4v6.3h-13.4zM234.2,561.6h6.8v6.3h-6.8zM227.6,567.7h6.8v6.3h-6.8zM201.1,573.9h6.8v6.3h-6.8zM227.6,573.9h6.8v6.3h-6.8zM273.9,604.7h6.8v6.3h-6.8zM287.2,610.9h6.8v6.3h-6.8zM300.4,617h13.4v6.3h-13.4zM293.8,623.2h6.8v6.3h-6.8zM333.5,635.5h6.8v6.3h-6.8zM320.3,647.9h6.8v6.3h-6.8zM320.3,654h6.8v6.3h-6.8zM346.8,666.4h6.8v6.3h-6.8zM353.4,672.5h6.8v6.3h-6.8zM360,678.7h6.8v6.3h-6.8zM373.2,691h20v6.3h-20zM379.9,697.2h6.8v6.3h-6.8zM399.7,703.3h6.8v6.3h-6.8z" fill="#414282"/>
<path d="M154.7,493.8h6.8v6.3h-6.8zM161.3,499.9h6.8v6.3h-6.8zM168,506.1h6.8v6.3h-6.8zM174.6,512.2h6.8v6.3h-6.8zM187.8,512.2h6.8v6.3h-6.8zM168,518.4h6.8v6.3h-6.8zM214.3,530.7h6.8v6.3h-6.8zM194.4,536.9h6.8v6.3h-6.8zM207.7,543.1h13.4v6.3h-13.4zM234.2,543.1h6.8v6.3h-6.8zM220.9,549.2h6.8v6.3h-6.8zM220.9,555.4h6.8v6.3h-6.8zM234.2,555.4h6.8v6.3h-6.8zM227.6,561.6h6.8v6.3h-6.8zM240.8,567.7h6.8v6.3h-6.8zM240.8,573.9h6.8v6.3h-6.8zM247.4,580.1h13.4v6.3h-13.4zM260.7,586.2h20v6.3h-20zM260.7,592.4h13.4v6.3h-13.4zM273.9,598.5h13.4v6.3h-13.4zM280.5,604.7h6.8v6.3h-6.8zM293.8,610.9h20v6.3h-20zM313.6,617h6.8v6.3h-6.8zM313.6,629.4h6.8v6.3h-6.8zM320.3,635.5h13.4v6.3h-13.4zM313.6,641.7h6.8v6.3h-6.8zM326.9,647.9h13.4v6.3h-13.4zM326.9,654h6.8v6.3h-6.8zM340.1,660.2h13.4v6.3h-13.4zM353.4,666.4h13.4v6.3h-13.4zM360,672.5h20v6.3h-20zM373.2,678.7h13.4v6.3h-13.4zM366.6,684.8h20v6.3h-20zM386.5,697.2h6.8v6.3h-6.8zM393.1,703.3h6.8v6.3h-6.8z" fill="#414684"/>
<path d="M154.7,469.1h6.8v6.3h-6.8zM161.3,487.6h13.4v6.3h-13.4zM174.6,506.1h6.8v6.3h-6.8zM187.8,506.1h6.8v6.3h-6.8zM181.2,512.2h6.8v6.3h-6.8zM174.6,518.4h6.8v6.3h-6.8zM194.4,524.6h6.8v6.3h-6.8zM214.3,524.6h6.8v6.3h-6.8zM201.1,530.7h13.4v6.3h-13.4zM220.9,530.7h6.8v6.3h-6.8zM201.1,536.9h6.8v6.3h-6.8zM220.9,543.1h6.8v6.3h-6.8zM227.6,549.2h6.8v6.3h-6.8zM240.8,549.2h6.8v6.3h-6.8zM240.8,555.4h6.8v6.3h-6.8zM240.8,561.6h6.8v6.3h-6.8zM254,561.6h6.8v6.3h-6.8zM254,567.7h6.8v6.3h-6.8zM267.3,580.1h6.8v6.3h-6.8zM280.5,586.2h6.8v6.3h-6.8zM273.9,592.4h13.4v6.3h-13.4zM287.2,598.5h13.4v6.3h-13.4zM287.2,604.7h13.4v6.3h-13.4zM300.4,623.2h20v6.3h-20zM320.3,629.4h13.4v6.3h-13.4zM333.5,641.7h6.8v6.3h-6.8zM340.1,647.9h13.4v6.3h-13.4zM333.5,654h6.8v6.3h-6.8zM353.4,660.2h6.8v6.3h-6.8zM366.6,666.4h6.8v6.3h-6.8zM379.9,672.5h6.8v6.3h-6.8zM366.6,678.7h6.8v6.3h-6.8zM386.5,684.8h6.8v6.3h-6.8zM393.1,691h6.8v6.3h-6.8zM393.1,697.2h13.4v6.3h-13.4zM406.4,703.3h6.8v6.3h-6.8z" fill="#414985"/>
<path d="M154.7,462.9h6.8v6.3h-6.8zM154.7,475.3h6.8v6.3h-6.8zM154.7,481.4h6.8v6.3h-6.8zM174.6,487.6h6.8v6.3h-6.8zM161.3,493.8h6.8v6.3h-6.8zM168,499.9h6.8v6.3h-6.8zM187.8,499.9h6.8v6.3h-6.8zM181.2,506.1h6.8v6.3h-6.8zM194.4,506.1h6.8v6.3h-6.8zM194.4,512.2h13.4v6.3h-13.4zM187.8,518.4h6.8v6.3h-6.8zM201.1,524.6h13.4v6.3h-13.4zM207.7,536.9h20v6.3h-20zM234.2,536.9h6.8v6.3h-6.8zM227.6,543.1h6.8v6.3h-6.8zM227.6,555.4h6.8v6.3h-6.8zM247.4,555.4h6.8v6.3h-6.8zM247.4,561.6h6.8v6.3h-6.8zM247.4,567.7h6.8v6.3h-6.8zM260.7,567.7h6.8v6.3h-6.8zM247.4,573.9h13.4v6.3h-13.4zM267.3,573.9h6.8v6.3h-6.8zM260.7,580.1h6.8v6.3h-6.8zM273.9,580.1h6.8v6.3h-6.8zM287.2,592.4h6.8v6.3h-6.8zM300.4,604.7h6.8v6.3h-6.8zM313.6,610.9h6.8v6.3h-6.8zM320.3,617h6.8v6.3h-6.8zM333.5,629.4h6.8v6.3h-6.8zM340.1,635.5h6.8v6.3h-6.8zM320.3,641.7h13.4v6.3h-13.4zM340.1,654h13.4v6.3h-13.4zM360,660.2h6.8v6.3h-6.8zM373.2,666.4h6.8v6.3h-6.8zM386.5,678.7h6.8v6.3h-6.8zM399.7,691h6.8v6.3h-6.8zM413,703.3h6.8v6.3h-6.8z" fill="#404b85"/>
<path d="M161.3,475.3h6.8v6.3h-6.8zM161.3,481.4h6.8v6.3h-6.8zM168,493.8h13.4v6.3h-13.4zM187.8,493.8h6.8v6.3h-6.8zM174.6,499.9h13.4v6.3h-13.4zM181.2,518.4h6.8v6.3h-6.8zM220.9,524.6h6.8v6.3h-6.8zM227.6,530.7h13.4v6.3h-13.4zM227.6,536.9h6.8v6.3h-6.8zM240.8,543.1h6.8v6.3h-6.8zM247.4,549.2h6.8v6.3h-6.8zM254,555.4h6.8v6.3h-6.8zM267.3,567.7h6.8v6.3h-6.8zM260.7,573.9h6.8v6.3h-6.8zM287.2,586.2h6.8v6.3h-6.8zM293.8,592.4h6.8v6.3h-6.8zM300.4,598.5h6.8v6.3h-6.8zM307,604.7h6.8v6.3h-6.8zM320.3,623.2h6.8v6.3h-6.8zM340.1,641.7h6.8v6.3h-6.8zM353.4,647.9h6.8v6.3h-6.8zM353.4,654h6.8v6.3h-6.8zM393.1,684.8h6.8v6.3h-6.8z" fill="#404e86"/>
<path d="M154.7,456.8h6.8v6.3h-6.8zM161.3,469.1h6.8v6.3h-6.8zM168,481.4h6.8v6.3h-6.8zM181.2,487.6h13.4v6.3h-13.4zM181.2,493.8h6.8v6.3h-6.8zM194.4,499.9h6.8v6.3h-6.8zM201.1,506.1h6.8v6.3h-6.8zM207.7,512.2h6.8v6.3h-6.8zM194.4,518.4h6.8v6.3h-6.8zM254,549.2h6.8v6.3h-6.8zM260.7,561.6h6.8v6.3h-6.8zM273.9,573.9h6.8v6.3h-6.8zM280.5,580.1h6.8v6.3h-6.8zM307,598.5h6.8v6.3h-6.8zM326.9,617h6.8v6.3h-6.8zM326.9,623.2h6.8v6.3h-6.8zM346.8,635.5h6.8v6.3h-6.8zM346.8,641.7h6.8v6.3h-6.8zM366.6,660.2h6.8v6.3h-6.8zM379.9,666.4h6.8v6.3h-6.8zM386.5,672.5h6.8v6.3h-6.8zM406.4,697.2h6.8v6.3h-6.8zM419.6,703.3h6.8v6.3h-6.8z" fill="#405287"/>
<path d="M161.3,462.9h6.8v6.3h-6.8zM168,475.3h6.8v6.3h-6.8zM174.6,481.4h6.8v6.3h-6.8zM214.3,512.2h6.8v6.3h-6.8zM201.1,518.4h20v6.3h-20zM247.4,543.1h6.8v6.3h-6.8zM293.8,586.2h6.8v6.3h-6.8zM320.3,610.9h6.8v6.3h-6.8zM340.1,629.4h6.8v6.3h-6.8zM360,654h6.8v6.3h-6.8z" fill="#3f5488"/>
<path d="M207.7,506.1h6.8v6.3h-6.8zM227.6,524.6h13.4v6.3h-13.4zM240.8,536.9h6.8v6.3h-6.8zM260.7,555.4h6.8v6.3h-6.8zM267.3,561.6h6.8v6.3h-6.8zM273.9,567.7h6.8v6.3h-6.8zM300.4,592.4h6.8v6.3h-6.8zM313.6,604.7h6.8v6.3h-6.8zM333.5,617h6.8v6.3h-6.8zM333.5,623.2h6.8v6.3h-6.8zM360,647.9h6.8v6.3h-6.8zM373.2,660.2h6.8v6.3h-6.8zM393.1,678.7h6.8v6.3h-6.8zM399.7,684.8h6.8v6.3h-6.8zM406.4,691h6.8v6.3h-6.8zM413,697.2h6.8v6.3h-6.8z" fill="#3f5788"/>
<path d="M161.3,456.8h6.8v6.3h-6.8zM168,469.1h6.8v6.3h-6.8zM194.4,493.8h6.8v6.3h-6.8zM201.1,499.9h6.8v6.3h-6.8zM240.8,530.7h6.8v6.3h-6.8zM254,543.1h6.8v6.3h-6.8zM280.5,573.9h6.8v6.3h-6.8zM287.2,580.1h6.8v6.3h-6.8zM307,592.4h6.8v6.3h-6.8zM346.8,629.4h6.8v6.3h-6.8zM353.4,635.5h6.8v6.3h-6.8zM353.4,641.7h6.8v6.3h-6.8zM386.5,666.4h6.8v6.3h-6.8z" fill="#3f5a89"/>
<path d="M168,462.9h6.8v6.3h-6.8zM174.6,475.3h6.8v6.3h-6.8zM181.2,481.4h6.8v6.3h-6.8zM194.4,487.6h6.8v6.3h-6.8zM214.3,506.1h6.8v6.3h-6.8zM220.9,512.2h6.8v6.3h-6.8zM220.9,518.4h6.8v6.3h-6.8zM247.4,536.9h6.8v6.3h-6.8zM260.7,549.2h6.8v6.3h-6.8zM267.3,555.4h6.8v6.3h-6.8zM300.4,586.2h6.8v6.3h-6.8zM313.6,598.5h6.8v6.3h-6.8zM326.9,610.9h6.8v6.3h-6.8zM366.6,654h6.8v6.3h-6.8zM379.9,660.2h6.8v6.3h-6.8zM393.1,672.5h6.8v6.3h-6.8zM399.7,678.7h6.8v6.3h-6.8zM413,691h6.8v6.3h-6.8zM419.6,697.2h6.8v6.3h-6.8zM426.2,703.3h6.8v6.3h-6.8z" fill="#3f5c89"/>
<path d="M154.7,444.4h6.8v6.3h-6.8zM154.7,450.6h6.8v6.3h-6.8zM187.8,481.4h6.8v6.3h-6.8zM207.7,499.9h6.8v6.3h-6.8zM240.8,524.6h6.8v6.3h-6.8zM247.4,530.7h6.8v6.3h-6.8zM267.3,549.2h6.8v6.3h-6.8zM273.9,561.6h6.8v6.3h-6.8zM280.5,567.7h6.8v6.3h-6.8zM293.8,580.1h6.8v6.3h-6.8zM307,586.2h6.8v6.3h-6.8zM320.3,604.7h6.8v6.3h-6.8zM333.5,610.9h6.8v6.3h-6.8zM340.1,617h6.8v6.3h-6.8zM340.1,623.2h6.8v6.3h-6.8zM366.6,647.9h6.8v6.3h-6.8zM406.4,684.8h6.8v6.3h-6.8zM432.8,703.3h6.8v6.3h-6.8z" fill="#3f5f8a"/>
<path d="M168,456.8h6.8v6.3h-6.8zM174.6,469.1h6.8v6.3h-6.8zM201.1,487.6h6.8v6.3h-6.8zM201.1,493.8h6.8v6.3h-6.8zM214.3,499.9h6.8v6.3h-6.8zM220.9,506.1h6.8v6.3h-6.8zM227.6,512.2h13.4v6.3h-13.4zM254,530.7h6.8v6.3h-6.8zM254,536.9h6.8v6.3h-6.8zM260.7,543.1h6.8v6.3h-6.8zM287.2,573.9h6.8v6.3h-6.8zM313.6,592.4h6.8v6.3h-6.8zM320.3,598.5h6.8v6.3h-6.8zM346.8,617h6.8v6.3h-6.8zM353.4,629.4h6.8v6.3h-6.8zM360,635.5h6.8v6.3h-6.8zM360,641.7h6.8v6.3h-6.8zM373.2,654h6.8v6.3h-6.8zM386.5,660.2h6.8v6.3h-6.8zM393.1,666.4h6.8v6.3h-6.8zM399.7,672.5h6.8v6.3h-6.8zM419.6,691h6.8v6.3h-6.8zM439.5,703.3h6.8v6.3h-6.8z" fill="#3f628a"/>
<path d="M154.7,432.1h6.8v6.3h-6.8zM161.3,444.4h6.8v6.3h-6.8zM174.6,462.9h6.8v6.3h-6.8zM181.2,475.3h13.4v6.3h-13.4zM207.7,487.6h13.4v6.3h-13.4zM207.7,493.8h6.8v6.3h-6.8zM234.2,506.1h6.8v6.3h-6.8zM227.6,518.4h13.4v6.3h-13.4zM247.4,524.6h13.4v6.3h-13.4zM267.3,543.1h6.8v6.3h-6.8zM273.9,549.2h6.8v6.3h-6.8zM273.9,555.4h6.8v6.3h-6.8zM280.5,561.6h6.8v6.3h-6.8zM287.2,567.7h6.8v6.3h-6.8zM300.4,580.1h6.8v6.3h-6.8zM313.6,586.2h6.8v6.3h-6.8zM326.9,598.5h13.4v6.3h-13.4zM326.9,604.7h13.4v6.3h-13.4zM340.1,610.9h6.8v6.3h-6.8zM346.8,623.2h6.8v6.3h-6.8zM360,629.4h6.8v6.3h-6.8zM366.6,635.5h6.8v6.3h-6.8zM373.2,647.9h13.4v6.3h-13.4zM379.9,654h6.8v6.3h-6.8zM399.7,666.4h6.8v6.3h-6.8zM406.4,678.7h6.8v6.3h-6.8zM413,684.8h6.8v6.3h-6.8zM426.2,697.2h6.8v6.3h-6.8z" fill="#3f648a"/>
<path d="M154.7,438.3h6.8v6.3h-6.8zM161.3,450.6h6.8v6.3h-6.8zM174.6,456.8h6.8v6.3h-6.8zM181.2,462.9h13.4v6.3h-13.4zM181.2,469.1h13.4v6.3h-13.4zM194.4,481.4h6.8v6.3h-6.8zM214.3,493.8h6.8v6.3h-6.8zM220.9,499.9h6.8v6.3h-6.8zM227.6,506.1h6.8v6.3h-6.8zM240.8,512.2h6.8v6.3h-6.8zM260.7,530.7h6.8v6.3h-6.8zM260.7,536.9h13.4v6.3h-13.4zM273.9,543.1h6.8v6.3h-6.8zM293.8,573.9h6.8v6.3h-6.8zM307,580.1h6.8v6.3h-6.8zM320.3,586.2h6.8v6.3h-6.8zM320.3,592.4h13.4v6.3h-13.4zM346.8,610.9h6.8v6.3h-6.8zM353.4,617h6.8v6.3h-6.8zM373.2,635.5h6.8v6.3h-6.8zM386.5,647.9h6.8v6.3h-6.8zM393.1,660.2h6.8v6.3h-6.8zM406.4,672.5h13.4v6.3h-13.4zM413,678.7h13.4v6.3h-13.4zM419.6,684.8h6.8v6.3h-6.8zM426.2,691h13.4v6.3h-13.4zM432.8,697.2h13.4v6.3h-13.4z" fill="#3f678a"/>
<path d="M168,444.4h6.8v6.3h-6.8zM181.2,456.8h13.4v6.3h-13.4zM201.1,481.4h6.8v6.3h-6.8zM220.9,493.8h6.8v6.3h-6.8zM227.6,499.9h6.8v6.3h-6.8zM240.8,518.4h6.8v6.3h-6.8zM267.3,530.7h6.8v6.3h-6.8zM280.5,549.2h6.8v6.3h-6.8zM280.5,555.4h6.8v6.3h-6.8zM287.2,561.6h6.8v6.3h-6.8zM293.8,567.7h6.8v6.3h-6.8zM307,573.9h6.8v6.3h-6.8zM313.6,580.1h6.8v6.3h-6.8zM333.5,592.4h6.8v6.3h-6.8zM340.1,604.7h6.8v6.3h-6.8zM360,617h6.8v6.3h-6.8zM353.4,623.2h6.8v6.3h-6.8zM366.6,629.4h6.8v6.3h-6.8zM379.9,635.5h6.8v6.3h-6.8zM366.6,641.7h20v6.3h-20zM386.5,654h6.8v6.3h-6.8zM399.7,660.2h6.8v6.3h-6.8zM406.4,666.4h6.8v6.3h-6.8zM419.6,672.5h6.8v6.3h-6.8zM426.2,684.8h6.8v6.3h-6.8zM439.5,691h6.8v6.3h-6.8zM446.1,703.3h13.4v6.3h-13.4z" fill="#3f698b"/>
<path d="M161.3,432.1h6.8v6.3h-6.8zM161.3,438.3h6.8v6.3h-6.8zM168,450.6h6.8v6.3h-6.8zM194.4,469.1h6.8v6.3h-6.8zM194.4,475.3h13.4v6.3h-13.4zM207.7,481.4h6.8v6.3h-6.8zM220.9,487.6h6.8v6.3h-6.8zM234.2,499.9h6.8v6.3h-6.8zM240.8,506.1h6.8v6.3h-6.8zM247.4,512.2h6.8v6.3h-6.8zM247.4,518.4h6.8v6.3h-6.8zM260.7,524.6h6.8v6.3h-6.8zM287.2,555.4h6.8v6.3h-6.8zM293.8,561.6h6.8v6.3h-6.8zM300.4,567.7h6.8v6.3h-6.8zM300.4,573.9h6.8v6.3h-6.8zM326.9,586.2h6.8v6.3h-6.8zM340.1,598.5h6.8v6.3h-6.8zM346.8,604.7h6.8v6.3h-6.8zM353.4,610.9h6.8v6.3h-6.8zM360,623.2h6.8v6.3h-6.8zM373.2,629.4h6.8v6.3h-6.8zM393.1,654h6.8v6.3h-6.8zM413,666.4h6.8v6.3h-6.8zM432.8,684.8h6.8v6.3h-6.8z" fill="#3f6b8b"/>
<path d="M154.7,425.9h6.8v6.3h-6.8zM174.6,444.4h6.8v6.3h-6.8zM174.6,450.6h6.8v6.3h-6.8zM194.4,462.9h6.8v6.3h-6.8zM201.1,469.1h6.8v6.3h-6.8zM214.3,481.4h6.8v6.3h-6.8zM227.6,493.8h6.8v6.3h-6.8zM254,518.4h6.8v6.3h-6.8zM273.9,536.9h6.8v6.3h-6.8zM280.5,543.1h6.8v6.3h-6.8zM287.2,549.2h6.8v6.3h-6.8zM307,567.7h6.8v6.3h-6.8zM313.6,573.9h6.8v6.3h-6.8zM320.3,580.1h6.8v6.3h-6.8zM366.6,623.2h6.8v6.3h-6.8zM386.5,641.7h6.8v6.3h-6.8zM393.1,647.9h6.8v6.3h-6.8zM399.7,654h6.8v6.3h-6.8zM406.4,660.2h6.8v6.3h-6.8zM426.2,678.7h6.8v6.3h-6.8z" fill="#3f6e8b"/>
<path d="M168,438.3h6.8v6.3h-6.8zM181.2,450.6h6.8v6.3h-6.8zM207.7,475.3h6.8v6.3h-6.8zM293.8,555.4h6.8v6.3h-6.8zM300.4,561.6h6.8v6.3h-6.8zM446.1,697.2h6.8v6.3h-6.8z" fill="#40718b"/>
<path d="M154.7,419.8h6.8v6.3h-6.8zM254,512.2h6.8v6.3h-6.8zM267.3,524.6h6.8v6.3h-6.8zM273.9,530.7h6.8v6.3h-6.8zM333.5,586.2h6.8v6.3h-6.8zM346.8,598.5h6.8v6.3h-6.8zM360,610.9h6.8v6.3h-6.8zM366.6,617h6.8v6.3h-6.8zM379.9,629.4h6.8v6.3h-6.8zM386.5,635.5h6.8v6.3h-6.8zM419.6,666.4h6.8v6.3h-6.8zM432.8,678.7h6.8v6.3h-6.8zM439.5,684.8h6.8v6.3h-6.8z" fill="#40738c"/>
<path d="M168,432.1h6.8v6.3h-6.8zM181.2,444.4h6.8v6.3h-6.8zM194.4,456.8h6.8v6.3h-6.8zM201.1,462.9h6.8v6.3h-6.8zM214.3,475.3h6.8v6.3h-6.8zM227.6,487.6h6.8v6.3h-6.8zM234.2,493.8h6.8v6.3h-6.8zM240.8,499.9h6.8v6.3h-6.8zM247.4,506.1h6.8v6.3h-6.8zM293.8,549.2h6.8v6.3h-6.8zM307,561.6h6.8v6.3h-6.8zM313.6,567.7h6.8v6.3h-6.8zM326.9,580.1h6.8v6.3h-6.8zM340.1,592.4h6.8v6.3h-6.8zM353.4,604.7h6.8v6.3h-6.8zM373.2,623.2h6.8v6.3h-6.8zM399.7,647.9h6.8v6.3h-6.8zM413,660.2h6.8v6.3h-6.8zM426.2,672.5h6.8v6.3h-6.8zM446.1,691h6.8v6.3h-6.8zM452.7,697.2h6.8v6.3h-6.8zM459.3,703.3h6.8v6.3h-6.8z" fill="#40768c"/>
<path d="M161.3,425.9h6.8v6.3h-6.8zM174.6,438.3h6.8v6.3h-6.8zM187.8,450.6h6.8v6.3h-6.8zM207.7,469.1h6.8v6.3h-6.8zM220.9,481.4h6.8v6.3h-6.8zM260.7,518.4h6.8v6.3h-6.8zM280.5,536.9h6.8v6.3h-6.8zM287.2,543.1h6.8v6.3h-6.8zM300.4,555.4h6.8v6.3h-6.8zM320.3,573.9h6.8v6.3h-6.8zM393.1,641.7h6.8v6.3h-6.8zM406.4,654h6.8v6.3h-6.8z" fill="#41788c"/>
<path d="M154.7,407.5h6.8v6.3h-6.8z" fill="#417a8c"/>
<path d="M161.3,419.8h6.8v6.3h-6.8zM174.6,432.1h6.8v6.3h-6.8zM187.8,444.4h6.8v6.3h-6.8zM201.1,456.8h6.8v6.3h-6.8zM207.7,462.9h6.8v6.3h-6.8zM214.3,469.1h6.8v6.3h-6.8zM234.2,487.6h6.8v6.3h-6.8zM240.8,493.8h6.8v6.3h-6.8zM247.4,499.9h6.8v6.3h-6.8zM254,506.1h6.8v6.3h-6.8zM260.7,512.2h6.8v6.3h-6.8zM273.9,524.6h6.8v6.3h-6.8zM280.5,530.7h6.8v6.3h-6.8zM313.6,561.6h6.8v6.3h-6.8zM320.3,567.7h6.8v6.3h-6.8zM326.9,573.9h6.8v6.3h-6.8zM333.5,580.1h6.8v6.3h-6.8zM340.1,586.2h6.8v6.3h-6.8zM346.8,592.4h6.8v6.3h-6.8zM353.4,598.5h6.8v6.3h-6.8zM360,604.7h6.8v6.3h-6.8zM366.6,610.9h6.8v6.3h-6.8zM373.2,617h6.8v6.3h-6.8zM379.9,623.2h6.8v6.3h-6.8zM386.5,629.4h6.8v6.3h-6.8zM393.1,635.5h6.8v6.3h-6.8zM406.4,647.9h6.8v6.3h-6.8zM419.6,660.2h6.8v6.3h-6.8zM426.2,666.4h6.8v6.3h-6.8zM432.8,672.5h6.8v6.3h-6.8zM439.5,678.7h6.8v6.3h-6.8zM452.7,691h6.8v6.3h-6.8zM459.3,697.2h6.8v6.3h-6.8zM466,703.3h6.8v6.3h-6.8z" fill="#43828c"/>
<path d="M154.7,413.6h6.8v6.3h-6.8zM168,425.9h6.8v6.3h-6.8zM181.2,438.3h6.8v6.3h-6.8zM194.4,450.6h6.8v6.3h-6.8zM220.9,475.3h6.8v6.3h-6.8zM227.6,481.4h6.8v6.3h-6.8zM267.3,518.4h6.8v6.3h-6.8zM287.2,536.9h6.8v6.3h-6.8zM293.8,543.1h6.8v6.3h-6.8zM300.4,549.2h6.8v6.3h-6.8zM307,555.4h6.8v6.3h-6.8zM399.7,641.7h6.8v6.3h-6.8zM413,654h6.8v6.3h-6.8zM446.1,684.8h6.8v6.3h-6.8z" fill="#44848c"/>
<path d="M161.3,413.6h6.8v6.3h-6.8zM168,419.8h6.8v6.3h-6.8zM174.6,425.9h6.8v6.3h-6.8zM181.2,432.1h6.8v6.3h-6.8zM187.8,438.3h6.8v6.3h-6.8zM194.4,444.4h6.8v6.3h-6.8zM201.1,450.6h6.8v6.3h-6.8zM207.7,456.8h6.8v6.3h-6.8zM214.3,462.9h6.8v6.3h-6.8zM220.9,469.1h6.8v6.3h-6.8zM227.6,475.3h6.8v6.3h-6.8zM234.2,481.4h6.8v6.3h-6.8zM240.8,487.6h6.8v6.3h-6.8zM247.4,493.8h6.8v6.3h-6.8zM254,499.9h6.8v6.3h-6.8zM260.7,506.1h6.8v6.3h-6.8zM267.3,512.2h6.8v6.3h-6.8zM273.9,518.4h6.8v6.3h-6.8zM280.5,524.6h6.8v6.3h-6.8zM287.2,530.7h6.8v6.3h-6.8zM293.8,536.9h6.8v6.3h-6.8zM300.4,543.1h6.8v6.3h-6.8zM307,549.2h6.8v6.3h-6.8zM313.6,555.4h6.8v6.3h-6.8zM320.3,561.6h6.8v6.3h-6.8zM326.9,567.7h6.8v6.3h-6.8zM333.5,573.9h6.8v6.3h-6.8zM340.1,580.1h6.8v6.3h-6.8zM346.8,586.2h6.8v6.3h-6.8zM353.4,592.4h6.8v6.3h-6.8zM360,598.5h6.8v6.3h-6.8zM366.6,604.7h6.8v6.3h-6.8zM373.2,610.9h6.8v6.3h-6.8zM379.9,617h6.8v6.3h-6.8zM386.5,623.2h6.8v6.3h-6.8zM393.1,629.4h6.8v6.3h-6.8zM399.7,635.5h6.8v6.3h-6.8zM406.4,641.7h6.8v6.3h-6.8zM413,647.9h6.8v6.3h-6.8zM419.6,654h6.8v6.3h-6.8zM426.2,660.2h6.8v6.3h-6.8zM432.8,666.4h6.8v6.3h-6.8zM439.5,672.5h6.8v6.3h-6.8zM446.1,678.7h6.8v6.3h-6.8zM452.7,684.8h6.8v6.3h-6.8zM459.3,691h6.8v6.3h-6.8zM466,697.2h6.8v6.3h-6.8zM472.6,703.3h6.8v6.3h-6.8z" fill="#4b9a8a"/>
<path d="M148.7,401.8h6.2v5.8h-6.2z" fill="#5db37f"/>
<path d="M148.7,407.5h6.2v6.3h-6.2zM148.7,413.6h6.2v6.3h-6.2zM148.7,419.8h6.2v6.3h-6.2zM148.7,425.9h6.2v6.3h-6.2zM148.7,432.1h6.2v6.3h-6.2zM148.7,438.3h6.2v6.3h-6.2zM148.7,444.4h6.2v6.3h-6.2zM148.7,450.6h6.2v6.3h-6.2zM148.7,456.8h6.2v6.3h-6.2zM148.7,462.9h6.2v6.3h-6.2zM148.7,469.1h6.2v6.3h-6.2zM148.7,475.3h6.2v6.3h-6.2zM148.7,481.4h6.2v6.3h-6.2zM148.7,487.6h6.2v6.3h-6.2zM148.7,493.8h6.2v6.3h-6.2zM148.7,499.9h6.2v6.3h-6.2zM148.7,506.1h6.2v6.3h-6.2zM148.7,512.2h6.2v6.3h-6.2zM148.7,518.4h6.2v6.3h-6.2zM148.7,524.6h6.2v6.3h-6.2zM148.7,530.7h6.2v6.3h-6.2zM148.7,536.9h6.2v6.3h-6.2zM148.7,543.1h6.2v6.3h-6.2zM148.7,549.2h6.2v6.3h-6.2zM148.7,555.4h6.2v6.3h-6.2zM148.7,561.6h6.2v6.3h-6.2zM148.7,567.7h6.2v6.3h-6.2zM148.7,573.9h6.2v6.3h-6.2zM148.7,580.1h6.2v6.3h-6.2zM148.7,586.2h6.2v6.3h-6.2zM148.7,592.4h6.2v6.3h-6.2zM148.7,598.5h6.2v6.3h-6.2zM148.7,604.7h6.2v6.3h-6.2zM148.7,610.9h6.2v6.3h-6.2zM148.7,617h6.2v6.3h-6.2zM148.7,623.2h6.2v6.3h-6.2zM148.7,629.4h6.2v6.3h-6.2zM148.7,635.5h6.2v6.3h-6.2zM148.7,641.7h6.2v6.3h-6.2zM148.7,647.9h6.2v6.3h-6.2zM148.7,654h6.2v6.3h-6.2zM148.7,660.2h6.2v6.3h-6.2zM148.7,666.4h6.2v6.3h-6.2zM148.7,672.5h6.2v6.3h-6.2zM148.7,678.7h6.2v6.3h-6.2zM148.7,684.8h6.2v6.3h-6.2zM148.7,691h6.2v6.3h-6.2zM148.7,697.2h6.2v6.3h-6.2zM148.7,703.3h6.2v6.3h-6.2z" fill="#fae855"/>
<path d="M154.7,407.5V709.5M148.7,407.5H154.7M161.3,413.6V709.5M148.7,413.6H161.3M168,419.8V709.5M148.7,419.8H168M174.6,425.9V709.5M148.7,425.9H174.6M181.2,432.1V709.5M148.7,432.1H181.2M187.8,438.3V709.5M148.7,438.3H187.8M194.4,444.4V709.5M148.7,444.4H194.4M201.1,450.6V709.5M148.7,450.6H201.1M207.7,456.8V709.5M148.7,456.8H207.7M214.3,462.9V709.5M148.7,462.9H214.3M220.9,469.1V709.5M148.7,469.1H220.9M227.6,475.3V709.5M148.7,475.3H227.6M234.2,481.4V709.5M148.7,481.4H234.2M240.8,487.6V709.5M148.7,487.6H240.8M247.4,493.8V709.5M148.7,493.8H247.4M254,499.9V709.5M148.7,499.9H254M260.7,506.1V709.5M148.7,506.1H260.7M267.3,512.2V709.5M148.7,512.2H267.3M273.9,518.4V709.5M148.7,518.4H273.9M280.5,524.6V709.5M148.7,524.6H280.5M287.2,530.7V709.5M148.7,530.7H287.2M293.8,536.9V709.5M148.7,536.9H293.8M300.4,543.1V709.5M148.7,543.1H300.4M307,549.2V709.5M148.7,549.2H307M313.6,555.4V709.5M148.7,555.4H313.6M320.3,561.6V709.5M148.7,561.6H320.3M326.9,567.7V709.5M148.7,567.7H326.9M333.5,573.9V709.5M148.7,573.9H333.5M340.1,580.1V709.5M148.7,580.1H340.1M346.8,586.2V709.5M148.7,586.2H346.8M353.4,592.4V709.5M148.7,592.4H353.4M360,598.5V709.5M148.7,598.5H360M366.6,604.7V709.5M148.7,604.7H366.6M373.2,610.9V709.5M148.7,610.9H373.2M379.9,617V709.5M148.7,617H379.9M386.5,623.2V709.5M148.7,623.2H386.5M393.1,629.4V709.5M148.7,629.4H393.1M399.7,635.5V709.5M148.7,635.5H399.7M406.4,641.7V709.5M148.7,641.7H406.4M413,647.9V709.5M148.7,647.9H413M419.6,654V709.5M148.7,654H419.6M426.2,660.2V709.5M148.7,660.2H426.2M432.8,666.4V709.5M148.7,666.4H432.8M439.5,672.5V709.5M148.7,672.5H439.5M446.1,678.7V709.5M148.7,678.7H446.1M452.7,684.8V709.5M148.7,684.8H452.7M459.3,691V709.5M148.7,691H459.3M466,697.2V709.5M148.7,697.2H466M472.6,703.3V709.5M148.7,703.3H472.6" stroke="#fff" stroke-opacity="0.27" stroke-width="0.75" fill="none"/>
<path d="M593.9,403h6.1v5.8h-6.1z" fill="#3e0851"/>
<path d="M599.9,661.6h6.7v6.3h-6.7zM619.6,661.6h13.3v6.3h-13.3zM645.9,661.6h6.7v6.3h-6.7zM672.2,661.6h13.3v6.3h-13.3zM698.4,661.6h6.7v6.3h-6.7zM599.9,698.7h6.7v6.3h-6.7zM678.7,698.7h6.7v6.3h-6.7zM698.4,698.7h6.7v6.3h-6.7zM599.9,704.8h6.7v6.3h-6.7zM619.6,704.8h6.7v6.3h-6.7zM645.9,704.8h6.7v6.3h-6.7zM672.2,704.8h13.3v6.3h-13.3zM698.4,704.8h6.7v6.3h-6.7zM744.4,704.8h6.7v6.3h-6.7zM757.6,704.8h6.7v6.3h-6.7z" fill="#3f5f8a"/>
<path d="M599.9,513.6h6.7v6.3h-6.7zM613,513.6h19.9v6.3h-19.9zM599.9,525.9h6.7v6.3h-6.7zM599.9,532.1h33v6.3h-33zM639.3,532.1h13.3v6.3h-13.3zM599.9,538.2h33v6.3h-33zM639.3,538.2h13.3v6.3h-13.3zM599.9,544.4h6.7v6.3h-6.7zM619.6,544.4h6.7v6.3h-6.7zM599.9,550.6h6.7v6.3h-6.7zM599.9,556.7h6.7v6.3h-6.7zM619.6,556.7h13.3v6.3h-13.3zM599.9,562.9h6.7v6.3h-6.7zM599.9,569.1h33v6.3h-33zM639.3,569.1h19.9v6.3h-19.9zM672.2,569.1h6.7v6.3h-6.7zM599.9,575.3h33v6.3h-33zM639.3,575.3h46.2v6.3h-46.2zM599.9,581.4h6.7v6.3h-6.7zM599.9,587.6h6.7v6.3h-6.7zM619.6,587.6h13.3v6.3h-13.3zM599.9,593.8h6.7v6.3h-6.7zM613,593.8h19.9v6.3h-19.9zM639.3,593.8h13.3v6.3h-13.3zM672.2,593.8h13.3v6.3h-13.3zM599.9,599.9h6.7v6.3h-6.7zM599.9,606.1h33v6.3h-33zM639.3,606.1h46.2v6.3h-46.2zM691.9,606.1h13.3v6.3h-13.3zM599.9,612.3h6.7v6.3h-6.7zM613,612.3h19.9v6.3h-19.9zM639.3,612.3h19.9v6.3h-19.9zM665.6,612.3h19.9v6.3h-19.9zM698.4,612.3h6.7v6.3h-6.7zM599.9,618.4h6.7v6.3h-6.7zM619.6,618.4h6.7v6.3h-6.7zM599.9,630.8h6.7v6.3h-6.7zM613,630.8h19.9v6.3h-19.9zM639.3,630.8h19.9v6.3h-19.9zM665.6,630.8h19.9v6.3h-19.9zM698.4,630.8h6.7v6.3h-6.7zM599.9,643.1h33v6.3h-33zM639.3,643.1h65.9v6.3h-65.9zM718.2,643.1h13.3v6.3h-13.3zM737.9,643.1h13.3v6.3h-13.3zM599.9,649.3h6.7v6.3h-6.7zM613,649.3h19.9v6.3h-19.9zM639.3,649.3h13.3v6.3h-13.3zM672.2,649.3h13.3v6.3h-13.3zM698.4,649.3h6.7v6.3h-6.7zM599.9,655.5h6.7v6.3h-6.7zM613,655.5h19.9v6.3h-19.9zM639.3,655.5h46.2v6.3h-46.2zM691.9,655.5h13.3v6.3h-13.3zM718.2,655.5h13.3v6.3h-13.3zM737.9,655.5h13.3v6.3h-13.3zM606.4,661.6h13.3v6.3h-13.3zM632.7,661.6h13.3v6.3h-13.3zM652.4,661.6h19.9v6.3h-19.9zM685.3,661.6h13.3v6.3h-13.3zM705,661.6h59.3v6.3h-59.3zM770.7,661.6h6.7v6.3h-6.7zM599.9,667.8h6.7v6.3h-6.7zM613,667.8h19.9v6.3h-19.9zM639.3,667.8h19.9v6.3h-19.9zM665.6,667.8h19.9v6.3h-19.9zM691.9,667.8h13.3v6.3h-13.3zM744.4,667.8h6.7v6.3h-6.7zM599.9,674h6.7v6.3h-6.7zM619.6,674h13.3v6.3h-13.3zM639.3,674h13.3v6.3h-13.3zM672.2,674h13.3v6.3h-13.3zM698.4,674h6.7v6.3h-6.7zM599.9,680.1h6.7v6.3h-6.7zM613,680.1h19.9v6.3h-19.9zM639.3,680.1h65.9v6.3h-65.9zM718.2,680.1h33v6.3h-33zM757.6,680.1h6.7v6.3h-6.7zM770.7,680.1h6.7v6.3h-6.7zM599.9,686.3h6.7v6.3h-6.7zM613,686.3h19.9v6.3h-19.9zM639.3,686.3h65.9v6.3h-65.9zM718.2,686.3h33v6.3h-33zM757.6,686.3h6.7v6.3h-6.7zM770.7,686.3h6.7v6.3h-6.7zM599.9,692.5h6.7v6.3h-6.7zM698.4,692.5h6.7v6.3h-6.7zM606.4,698.7h26.4v6.3h-26.4zM639.3,698.7h39.6v6.3h-39.6zM685.3,698.7h13.3v6.3h-13.3zM705,698.7h85.6v6.3h-85.6zM797,698.7h26.4v6.3h-26.4zM606.4,704.8h13.3v6.3h-13.3zM626.1,704.8h6.7v6.3h-6.7zM639.3,704.8h6.7v6.3h-6.7zM652.4,704.8h19.9v6.3h-19.9zM685.3,704.8h13.3v6.3h-13.3zM705,704.8h39.6v6.3h-39.6zM751,704.8h6.7v6.3h-6.7zM764.2,704.8h26.4v6.3h-26.4zM797,704.8h26.4v6.3h-26.4z" fill="#3f628a"/>
<path d="M599.9,482.7h6.7v6.3h-6.7zM599.9,488.9h6.7v6.3h-6.7zM599.9,495h6.7v6.3h-6.7zM599.9,501.2h33v6.3h-33zM599.9,507.4h33v6.3h-33zM606.4,513.6h6.7v6.3h-6.7zM639.3,513.6h13.3v6.3h-13.3zM599.9,519.7h6.7v6.3h-6.7zM613,519.7h19.9v6.3h-19.9zM606.4,525.9h26.4v6.3h-26.4zM639.3,525.9h13.3v6.3h-13.3zM632.7,532.1h6.7v6.3h-6.7zM652.4,532.1h26.4v6.3h-26.4zM632.7,538.2h6.7v6.3h-6.7zM652.4,538.2h33v6.3h-33zM606.4,544.4h13.3v6.3h-13.3zM626.1,544.4h6.7v6.3h-6.7zM639.3,544.4h19.9v6.3h-19.9zM672.2,544.4h6.7v6.3h-6.7zM606.4,550.6h26.4v6.3h-26.4zM639.3,550.6h13.3v6.3h-13.3zM606.4,556.7h13.3v6.3h-13.3zM639.3,556.7h46.2v6.3h-46.2zM606.4,562.9h26.4v6.3h-26.4zM639.3,562.9h46.2v6.3h-46.2zM632.7,569.1h6.7v6.3h-6.7zM659,569.1h13.3v6.3h-13.3zM678.7,569.1h26.4v6.3h-26.4zM632.7,575.3h6.7v6.3h-6.7zM685.3,575.3h19.9v6.3h-19.9zM606.4,581.4h26.4v6.3h-26.4zM639.3,581.4h46.2v6.3h-46.2zM698.4,581.4h6.7v6.3h-6.7zM606.4,587.6h13.3v6.3h-13.3zM639.3,587.6h65.9v6.3h-65.9zM606.4,593.8h6.7v6.3h-6.7zM632.7,593.8h6.7v6.3h-6.7zM652.4,593.8h19.9v6.3h-19.9zM685.3,593.8h19.9v6.3h-19.9zM606.4,599.9h26.4v6.3h-26.4zM639.3,599.9h65.9v6.3h-65.9zM632.7,606.1h6.7v6.3h-6.7zM685.3,606.1h6.7v6.3h-6.7zM705,606.1h46.2v6.3h-46.2zM606.4,612.3h6.7v6.3h-6.7zM632.7,612.3h6.7v6.3h-6.7zM659,612.3h6.7v6.3h-6.7zM685.3,612.3h13.3v6.3h-13.3zM705,612.3h46.2v6.3h-46.2zM606.4,618.4h13.3v6.3h-13.3zM626.1,618.4h6.7v6.3h-6.7zM639.3,618.4h65.9v6.3h-65.9zM718.2,618.4h13.3v6.3h-13.3zM599.9,624.6h33v6.3h-33zM639.3,624.6h65.9v6.3h-65.9zM606.4,630.8h6.7v6.3h-6.7zM632.7,630.8h6.7v6.3h-6.7zM659,630.8h6.7v6.3h-6.7zM685.3,630.8h13.3v6.3h-13.3zM705,630.8h46.2v6.3h-46.2zM757.6,630.8h6.7v6.3h-6.7zM599.9,637h33v6.3h-33zM639.3,637h65.9v6.3h-65.9zM718.2,637h13.3v6.3h-13.3zM737.9,637h13.3v6.3h-13.3zM632.7,643.1h6.7v6.3h-6.7zM705,643.1h13.3v6.3h-13.3zM731.3,643.1h6.7v6.3h-6.7zM751,643.1h26.4v6.3h-26.4zM606.4,649.3h6.7v6.3h-6.7zM632.7,649.3h6.7v6.3h-6.7zM652.4,649.3h19.9v6.3h-19.9zM685.3,649.3h13.3v6.3h-13.3zM705,649.3h59.3v6.3h-59.3zM770.7,649.3h6.7v6.3h-6.7zM606.4,655.5h6.7v6.3h-6.7zM632.7,655.5h6.7v6.3h-6.7zM685.3,655.5h6.7v6.3h-6.7zM705,655.5h13.3v6.3h-13.3zM731.3,655.5h6.7v6.3h-6.7zM751,655.5h33v6.3h-33zM764.2,661.6h6.7v6.3h-6.7zM777.3,661.6h13.3v6.3h-13.3zM797,661.6h13.3v6.3h-13.3zM606.4,667.8h6.7v6.3h-6.7zM632.7,667.8h6.7v6.3h-6.7zM659,667.8h6.7v6.3h-6.7zM685.3,667.8h6.7v6.3h-6.7zM705,667.8h39.6v6.3h-39.6zM751,667.8h39.6v6.3h-39.6zM797,667.8h6.7v6.3h-6.7zM606.4,674h13.3v6.3h-13.3zM632.7,674h6.7v6.3h-6.7zM652.4,674h19.9v6.3h-19.9zM685.3,674h13.3v6.3h-13.3zM705,674h85.6v6.3h-85.6zM797,674h6.7v6.3h-6.7zM606.4,680.1h6.7v6.3h-6.7zM632.7,680.1h6.7v6.3h-6.7zM705,680.1h13.3v6.3h-13.3zM751,680.1h6.7v6.3h-6.7zM764.2,680.1h6.7v6.3h-6.7zM777.3,680.1h13.3v6.3h-13.3zM797,680.1h26.4v6.3h-26.4zM606.4,686.3h6.7v6.3h-6.7zM632.7,686.3h6.7v6.3h-6.7zM705,686.3h13.3v6.3h-13.3zM751,686.3h6.7v6.3h-6.7zM764.2,686.3h6.7v6.3h-6.7zM777.3,686.3h13.3v6.3h-13.3zM797,686.3h26.4v6.3h-26.4zM606.4,692.5h26.4v6.3h-26.4zM639.3,692.5h59.3v6.3h-59.3zM705,692.5h85.6v6.3h-85.6zM797,692.5h13.3v6.3h-13.3zM632.7,698.7h6.7v6.3h-6.7zM790.5,698.7h6.7v6.3h-6.7zM823.3,698.7h13.3v6.3h-13.3zM632.7,704.8h6.7v6.3h-6.7zM790.5,704.8h6.7v6.3h-6.7zM823.3,704.8h19.9v6.3h-19.9zM849.6,704.8h6.7v6.3h-6.7z" fill="#3f648a"/>
<path d="M599.9,464.2h6.7v6.3h-6.7zM599.9,470.4h6.7v6.3h-6.7zM599.9,476.5h6.7v6.3h-6.7zM606.4,482.7h26.4v6.3h-26.4zM606.4,488.9h26.4v6.3h-26.4zM606.4,495h26.4v6.3h-26.4zM639.3,501.2h13.3v6.3h-13.3zM632.7,507.4h19.9v6.3h-19.9zM632.7,513.6h6.7v6.3h-6.7zM652.4,513.6h26.4v6.3h-26.4zM606.4,519.7h6.7v6.3h-6.7zM639.3,519.7h13.3v6.3h-13.3zM632.7,525.9h6.7v6.3h-6.7zM652.4,525.9h26.4v6.3h-26.4zM678.7,532.1h13.3v6.3h-13.3zM685.3,538.2h19.9v6.3h-19.9zM632.7,544.4h6.7v6.3h-6.7zM659,544.4h13.3v6.3h-13.3zM678.7,544.4h13.3v6.3h-13.3zM632.7,550.6h6.7v6.3h-6.7zM652.4,550.6h33v6.3h-33zM632.7,556.7h6.7v6.3h-6.7zM685.3,556.7h19.9v6.3h-19.9zM632.7,562.9h6.7v6.3h-6.7zM685.3,562.9h19.9v6.3h-19.9zM705,569.1h19.9v6.3h-19.9zM705,575.3h26.4v6.3h-26.4zM632.7,581.4h6.7v6.3h-6.7zM685.3,581.4h13.3v6.3h-13.3zM705,581.4h19.9v6.3h-19.9zM632.7,587.6h6.7v6.3h-6.7zM705,587.6h26.4v6.3h-26.4zM705,593.8h46.2v6.3h-46.2zM632.7,599.9h6.7v6.3h-6.7zM705,599.9h46.2v6.3h-46.2zM751,606.1h13.3v6.3h-13.3zM751,612.3h13.3v6.3h-13.3zM770.7,612.3h6.7v6.3h-6.7zM632.7,618.4h6.7v6.3h-6.7zM705,618.4h13.3v6.3h-13.3zM731.3,618.4h33v6.3h-33zM632.7,624.6h6.7v6.3h-6.7zM705,624.6h59.3v6.3h-59.3zM751,630.8h6.7v6.3h-6.7zM764.2,630.8h19.9v6.3h-19.9zM632.7,637h6.7v6.3h-6.7zM705,637h13.3v6.3h-13.3zM731.3,637h6.7v6.3h-6.7zM751,637h26.4v6.3h-26.4zM777.3,643.1h13.3v6.3h-13.3zM797,643.1h13.3v6.3h-13.3zM764.2,649.3h6.7v6.3h-6.7zM777.3,649.3h13.3v6.3h-13.3zM797,649.3h13.3v6.3h-13.3zM783.9,655.5h33v6.3h-33zM790.5,661.6h6.7v6.3h-6.7zM810.2,661.6h19.9v6.3h-19.9zM790.5,667.8h6.7v6.3h-6.7zM803.6,667.8h19.9v6.3h-19.9zM790.5,674h6.7v6.3h-6.7zM803.6,674h19.9v6.3h-19.9zM790.5,680.1h6.7v6.3h-6.7zM823.3,680.1h13.3v6.3h-13.3zM790.5,686.3h6.7v6.3h-6.7zM823.3,686.3h13.3v6.3h-13.3zM632.7,692.5h6.7v6.3h-6.7zM790.5,692.5h6.7v6.3h-6.7zM810.2,692.5h26.4v6.3h-26.4zM836.5,698.7h19.9v6.3h-19.9zM843,704.8h6.7v6.3h-6.7zM869.3,704.8h13.3v6.3h-13.3z" fill="#3f678a"/>
<path d="M599.9,439.5h6.7v6.3h-6.7zM599.9,445.7h6.7v6.3h-6.7zM599.9,451.9h6.7v6.3h-6.7zM599.9,458h6.7v6.3h-6.7zM606.4,464.2h19.9v6.3h-19.9zM606.4,470.4h19.9v6.3h-19.9zM606.4,476.5h26.4v6.3h-26.4zM639.3,482.7h6.7v6.3h-6.7zM639.3,488.9h6.7v6.3h-6.7zM639.3,495h13.3v6.3h-13.3zM632.7,501.2h6.7v6.3h-6.7zM652.4,501.2h13.3v6.3h-13.3zM652.4,507.4h19.9v6.3h-19.9zM678.7,513.6h6.7v6.3h-6.7zM632.7,519.7h6.7v6.3h-6.7zM652.4,519.7h26.4v6.3h-26.4zM678.7,525.9h13.3v6.3h-13.3zM691.9,532.1h13.3v6.3h-13.3zM691.9,544.4h13.3v6.3h-13.3zM685.3,550.6h19.9v6.3h-19.9zM705,556.7h19.9v6.3h-19.9zM705,562.9h19.9v6.3h-19.9zM724.7,569.1h19.9v6.3h-19.9zM731.3,575.3h19.9v6.3h-19.9zM724.7,581.4h26.4v6.3h-26.4zM731.3,587.6h19.9v6.3h-19.9zM751,593.8h13.3v6.3h-13.3zM751,599.9h13.3v6.3h-13.3zM764.2,606.1h13.3v6.3h-13.3zM764.2,612.3h6.7v6.3h-6.7zM777.3,612.3h6.7v6.3h-6.7zM764.2,618.4h19.9v6.3h-19.9zM764.2,624.6h19.9v6.3h-19.9zM783.9,630.8h6.7v6.3h-6.7zM797,630.8h6.7v6.3h-6.7zM777.3,637h13.3v6.3h-13.3zM797,637h6.7v6.3h-6.7zM790.5,643.1h6.7v6.3h-6.7zM810.2,643.1h13.3v6.3h-13.3zM790.5,649.3h6.7v6.3h-6.7zM810.2,649.3h13.3v6.3h-13.3zM816.7,655.5h13.3v6.3h-13.3zM829.9,661.6h6.7v6.3h-6.7zM823.3,667.8h13.3v6.3h-13.3zM823.3,674h13.3v6.3h-13.3zM836.5,680.1h19.9v6.3h-19.9zM836.5,686.3h19.9v6.3h-19.9zM836.5,692.5h19.9v6.3h-19.9zM856.2,698.7h26.4v6.3h-26.4zM856.2,704.8h13.3v6.3h-13.3zM882.5,704.8h6.7v6.3h-6.7z" fill="#3f698b"/>
<path d="M599.9,433.3h6.7v6.3h-6.7zM606.4,451.9h19.9v6.3h-19.9zM606.4,458h19.9v6.3h-19.9zM626.1,464.2h6.7v6.3h-6.7zM626.1,470.4h6.7v6.3h-6.7zM639.3,476.5h6.7v6.3h-6.7zM632.7,482.7h6.7v6.3h-6.7zM645.9,482.7h13.3v6.3h-13.3zM632.7,488.9h6.7v6.3h-6.7zM645.9,488.9h13.3v6.3h-13.3zM632.7,495h6.7v6.3h-6.7zM652.4,495h6.7v6.3h-6.7zM665.6,501.2h13.3v6.3h-13.3zM672.2,507.4h13.3v6.3h-13.3zM685.3,513.6h6.7v6.3h-6.7zM678.7,519.7h6.7v6.3h-6.7zM691.9,525.9h13.3v6.3h-13.3zM705,532.1h6.7v6.3h-6.7zM705,538.2h13.3v6.3h-13.3zM705,544.4h19.9v6.3h-19.9zM705,550.6h19.9v6.3h-19.9zM724.7,556.7h6.7v6.3h-6.7zM724.7,562.9h13.3v6.3h-13.3zM744.4,569.1h6.7v6.3h-6.7zM751,575.3h6.7v6.3h-6.7zM751,581.4h6.7v6.3h-6.7zM751,587.6h13.3v6.3h-13.3zM764.2,593.8h13.3v6.3h-13.3zM764.2,599.9h13.3v6.3h-13.3zM777.3,606.1h13.3v6.3h-13.3zM783.9,612.3h6.7v6.3h-6.7zM783.9,618.4h6.7v6.3h-6.7zM783.9,624.6h6.7v6.3h-6.7zM797,624.6h6.7v6.3h-6.7zM790.5,630.8h6.7v6.3h-6.7zM803.6,630.8h13.3v6.3h-13.3zM790.5,637h6.7v6.3h-6.7zM803.6,637h13.3v6.3h-13.3zM823.3,643.1h6.7v6.3h-6.7zM823.3,649.3h6.7v6.3h-6.7zM829.9,655.5h6.7v6.3h-6.7zM836.5,661.6h6.7v6.3h-6.7zM836.5,667.8h6.7v6.3h-6.7zM836.5,674h19.9v6.3h-19.9zM856.2,686.3h6.7v6.3h-6.7zM856.2,692.5h6.7v6.3h-6.7zM882.5,698.7h6.7v6.3h-6.7zM889,704.8h13.3v6.3h-13.3z" fill="#3f6b8b"/>
<path d="M606.4,439.5h13.3v6.3h-13.3zM606.4,445.7h19.9v6.3h-19.9zM626.1,451.9h6.7v6.3h-6.7zM626.1,458h6.7v6.3h-6.7zM632.7,464.2h13.3v6.3h-13.3zM632.7,470.4h13.3v6.3h-13.3zM632.7,476.5h6.7v6.3h-6.7zM645.9,476.5h6.7v6.3h-6.7zM659,482.7h6.7v6.3h-6.7zM659,488.9h6.7v6.3h-6.7zM659,495h13.3v6.3h-13.3zM678.7,501.2h6.7v6.3h-6.7zM685.3,507.4h6.7v6.3h-6.7zM691.9,513.6h13.3v6.3h-13.3zM685.3,519.7h19.9v6.3h-19.9zM711.6,532.1h6.7v6.3h-6.7zM718.2,538.2h6.7v6.3h-6.7zM724.7,544.4h6.7v6.3h-6.7zM724.7,550.6h6.7v6.3h-6.7zM731.3,556.7h13.3v6.3h-13.3zM737.9,562.9h13.3v6.3h-13.3zM751,569.1h6.7v6.3h-6.7zM757.6,575.3h6.7v6.3h-6.7zM757.6,581.4h6.7v6.3h-6.7zM764.2,587.6h13.3v6.3h-13.3zM777.3,593.8h6.7v6.3h-6.7zM777.3,599.9h6.7v6.3h-6.7zM790.5,612.3h13.3v6.3h-13.3zM790.5,618.4h19.9v6.3h-19.9zM790.5,624.6h6.7v6.3h-6.7zM803.6,624.6h6.7v6.3h-6.7zM816.7,630.8h6.7v6.3h-6.7zM816.7,637h6.7v6.3h-6.7zM829.9,643.1h6.7v6.3h-6.7zM829.9,649.3h6.7v6.3h-6.7zM836.5,655.5h6.7v6.3h-6.7zM843,661.6h13.3v6.3h-13.3zM843,667.8h13.3v6.3h-13.3zM856.2,680.1h19.9v6.3h-19.9zM862.7,686.3h19.9v6.3h-19.9zM862.7,692.5h19.9v6.3h-19.9zM889,698.7h13.3v6.3h-13.3z" fill="#3f6e8b"/>
<path d="M599.9,421h6.7v6.3h-6.7zM599.9,427.2h6.7v6.3h-6.7zM606.4,433.3h6.7v6.3h-6.7zM619.6,439.5h6.7v6.3h-6.7zM626.1,445.7h6.7v6.3h-6.7zM645.9,464.2h6.7v6.3h-6.7zM645.9,470.4h6.7v6.3h-6.7zM652.4,476.5h6.7v6.3h-6.7zM665.6,482.7h6.7v6.3h-6.7zM665.6,488.9h6.7v6.3h-6.7zM672.2,495h6.7v6.3h-6.7zM685.3,501.2h6.7v6.3h-6.7zM691.9,507.4h6.7v6.3h-6.7zM705,525.9h6.7v6.3h-6.7zM718.2,532.1h6.7v6.3h-6.7zM724.7,538.2h6.7v6.3h-6.7zM731.3,550.6h6.7v6.3h-6.7zM744.4,556.7h6.7v6.3h-6.7zM757.6,569.1h6.7v6.3h-6.7zM764.2,575.3h6.7v6.3h-6.7zM764.2,581.4h13.3v6.3h-13.3zM783.9,593.8h6.7v6.3h-6.7zM783.9,599.9h6.7v6.3h-6.7zM790.5,606.1h13.3v6.3h-13.3zM803.6,612.3h6.7v6.3h-6.7zM810.2,624.6h6.7v6.3h-6.7zM823.3,630.8h6.7v6.3h-6.7zM823.3,637h6.7v6.3h-6.7zM836.5,649.3h6.7v6.3h-6.7zM843,655.5h13.3v6.3h-13.3zM856.2,667.8h6.7v6.3h-6.7zM856.2,674h13.3v6.3h-13.3zM875.9,680.1h6.7v6.3h-6.7zM882.5,686.3h6.7v6.3h-6.7zM882.5,692.5h6.7v6.3h-6.7zM902.2,704.8h6.7v6.3h-6.7z" fill="#40718b"/>
<path d="M599.9,414.8h6.7v6.3h-6.7zM606.4,427.2h6.7v6.3h-6.7zM613,433.3h6.7v6.3h-6.7zM632.7,451.9h6.7v6.3h-6.7zM632.7,458h13.3v6.3h-13.3zM652.4,470.4h6.7v6.3h-6.7zM659,476.5h6.7v6.3h-6.7zM672.2,488.9h6.7v6.3h-6.7zM678.7,495h6.7v6.3h-6.7zM705,519.7h6.7v6.3h-6.7zM711.6,525.9h6.7v6.3h-6.7zM724.7,532.1h6.7v6.3h-6.7zM731.3,544.4h6.7v6.3h-6.7zM737.9,550.6h6.7v6.3h-6.7zM751,562.9h6.7v6.3h-6.7zM770.7,575.3h6.7v6.3h-6.7zM777.3,587.6h6.7v6.3h-6.7zM810.2,618.4h6.7v6.3h-6.7zM816.7,624.6h6.7v6.3h-6.7zM829.9,637h6.7v6.3h-6.7zM836.5,643.1h6.7v6.3h-6.7zM843,649.3h6.7v6.3h-6.7zM856.2,661.6h6.7v6.3h-6.7zM862.7,667.8h6.7v6.3h-6.7zM869.3,674h6.7v6.3h-6.7zM889,692.5h6.7v6.3h-6.7z" fill="#40738c"/>
<path d="M619.6,433.3h6.7v6.3h-6.7zM626.1,439.5h6.7v6.3h-6.7zM639.3,451.9h6.7v6.3h-6.7zM645.9,458h6.7v6.3h-6.7zM652.4,464.2h6.7v6.3h-6.7zM672.2,482.7h6.7v6.3h-6.7zM678.7,488.9h6.7v6.3h-6.7zM691.9,501.2h6.7v6.3h-6.7zM698.4,507.4h6.7v6.3h-6.7zM705,513.6h6.7v6.3h-6.7zM718.2,525.9h6.7v6.3h-6.7zM731.3,538.2h6.7v6.3h-6.7zM737.9,544.4h6.7v6.3h-6.7zM744.4,550.6h6.7v6.3h-6.7zM751,556.7h6.7v6.3h-6.7zM757.6,562.9h6.7v6.3h-6.7zM764.2,569.1h6.7v6.3h-6.7zM783.9,587.6h6.7v6.3h-6.7zM790.5,599.9h13.3v6.3h-13.3zM803.6,606.1h6.7v6.3h-6.7zM810.2,612.3h6.7v6.3h-6.7zM816.7,618.4h6.7v6.3h-6.7zM829.9,630.8h6.7v6.3h-6.7zM849.6,649.3h6.7v6.3h-6.7zM862.7,661.6h6.7v6.3h-6.7zM869.3,667.8h6.7v6.3h-6.7zM875.9,674h6.7v6.3h-6.7zM882.5,680.1h6.7v6.3h-6.7zM889,686.3h6.7v6.3h-6.7zM895.6,692.5h6.7v6.3h-6.7zM902.2,698.7h6.7v6.3h-6.7zM908.8,704.8h6.7v6.3h-6.7z" fill="#40768c"/>
<path d="M606.4,421h6.7v6.3h-6.7zM613,427.2h6.7v6.3h-6.7zM632.7,445.7h6.7v6.3h-6.7zM659,470.4h6.7v6.3h-6.7zM665.6,476.5h6.7v6.3h-6.7zM685.3,495h6.7v6.3h-6.7zM711.6,519.7h6.7v6.3h-6.7zM777.3,581.4h6.7v6.3h-6.7zM790.5,593.8h6.7v6.3h-6.7zM823.3,624.6h6.7v6.3h-6.7zM836.5,637h6.7v6.3h-6.7zM843,643.1h6.7v6.3h-6.7zM856.2,655.5h6.7v6.3h-6.7z" fill="#41788c"/>
<path d="M606.4,414.8h6.7v6.3h-6.7zM645.9,451.9h6.7v6.3h-6.7zM678.7,482.7h6.7v6.3h-6.7zM698.4,501.2h6.7v6.3h-6.7zM711.6,513.6h6.7v6.3h-6.7zM724.7,525.9h6.7v6.3h-6.7zM731.3,532.1h6.7v6.3h-6.7zM737.9,538.2h6.7v6.3h-6.7zM744.4,544.4h6.7v6.3h-6.7zM757.6,556.7h6.7v6.3h-6.7zM770.7,569.1h6.7v6.3h-6.7zM777.3,575.3h6.7v6.3h-6.7zM797,593.8h6.7v6.3h-6.7zM810.2,606.1h6.7v6.3h-6.7zM816.7,612.3h6.7v6.3h-6.7zM849.6,643.1h6.7v6.3h-6.7zM869.3,661.6h6.7v6.3h-6.7zM875.9,667.8h6.7v6.3h-6.7zM895.6,686.3h6.7v6.3h-6.7zM908.8,698.7h6.7v6.3h-6.7zM915.3,704.8h6.7v6.3h-6.7z" fill="#427d8c"/>
<path d="M599.9,408.7h6.7v6.3h-6.7zM613,421h6.7v6.3h-6.7zM619.6,427.2h6.7v6.3h-6.7zM626.1,433.3h6.7v6.3h-6.7zM632.7,439.5h6.7v6.3h-6.7zM639.3,445.7h6.7v6.3h-6.7zM652.4,458h6.7v6.3h-6.7zM659,464.2h6.7v6.3h-6.7zM665.6,470.4h6.7v6.3h-6.7zM672.2,476.5h6.7v6.3h-6.7zM685.3,488.9h6.7v6.3h-6.7zM691.9,495h6.7v6.3h-6.7zM705,507.4h6.7v6.3h-6.7zM718.2,519.7h6.7v6.3h-6.7zM751,550.6h6.7v6.3h-6.7zM764.2,562.9h6.7v6.3h-6.7zM783.9,581.4h6.7v6.3h-6.7zM790.5,587.6h6.7v6.3h-6.7zM803.6,599.9h6.7v6.3h-6.7zM823.3,618.4h6.7v6.3h-6.7zM836.5,630.8h6.7v6.3h-6.7zM862.7,655.5h6.7v6.3h-6.7zM882.5,674h6.7v6.3h-6.7zM889,680.1h6.7v6.3h-6.7zM902.2,692.5h6.7v6.3h-6.7z" fill="#42808c"/>
<path d="M829.9,624.6h6.7v6.3h-6.7zM843,637h6.7v6.3h-6.7zM856.2,649.3h6.7v6.3h-6.7z" fill="#43828c"/>
<path d="M593.9,408.7h6.1v6.3h-6.1zM593.9,414.8h6.1v6.3h-6.1zM593.9,421h6.1v6.3h-6.1zM593.9,427.2h6.1v6.3h-6.1zM593.9,433.3h6.1v6.3h-6.1zM593.9,439.5h6.1v6.3h-6.1zM593.9,445.7h6.1v6.3h-6.1zM593.9,451.9h6.1v6.3h-6.1zM593.9,458h6.1v6.3h-6.1zM593.9,464.2h6.1v6.3h-6.1zM593.9,470.4h6.1v6.3h-6.1zM593.9,476.5h6.1v6.3h-6.1zM593.9,482.7h6.1v6.3h-6.1zM593.9,488.9h6.1v6.3h-6.1zM593.9,495h6.1v6.3h-6.1zM593.9,501.2h6.1v6.3h-6.1zM593.9,507.4h6.1v6.3h-6.1zM593.9,513.6h6.1v6.3h-6.1zM593.9,519.7h6.1v6.3h-6.1zM593.9,525.9h6.1v6.3h-6.1zM593.9,532.1h6.1v6.3h-6.1zM593.9,538.2h6.1v6.3h-6.1zM593.9,544.4h6.1v6.3h-6.1zM593.9,550.6h6.1v6.3h-6.1zM593.9,556.7h6.1v6.3h-6.1zM593.9,562.9h6.1v6.3h-6.1zM593.9,569.1h6.1v6.3h-6.1zM593.9,575.3h6.1v6.3h-6.1zM593.9,581.4h6.1v6.3h-6.1zM593.9,587.6h6.1v6.3h-6.1zM593.9,593.8h6.1v6.3h-6.1zM593.9,599.9h6.1v6.3h-6.1zM593.9,606.1h6.1v6.3h-6.1zM593.9,612.3h6.1v6.3h-6.1zM593.9,618.4h6.1v6.3h-6.1zM593.9,624.6h6.1v6.3h-6.1zM593.9,630.8h6.1v6.3h-6.1zM593.9,637h6.1v6.3h-6.1zM593.9,643.1h6.1v6.3h-6.1zM593.9,649.3h6.1v6.3h-6.1zM593.9,655.5h6.1v6.3h-6.1zM593.9,661.6h6.1v6.3h-6.1zM593.9,667.8h6.1v6.3h-6.1zM593.9,674h6.1v6.3h-6.1zM593.9,680.1h6.1v6.3h-6.1zM593.9,686.3h6.1v6.3h-6.1zM593.9,692.5h6.1v6.3h-6.1zM593.9,698.7h6.1v6.3h-6.1zM593.9,704.8h6.1v6.3h-6.1z" fill="#fae855"/>
<path d="M599.9,408.7V711M593.9,408.7H599.9M606.4,414.8V711M593.9,414.8H606.4M613,421V711M593.9,421H613M619.6,427.2V711M593.9,427.2H619.6M626.1,433.3V711M593.9,433.3H626.1M632.7,439.5V711M593.9,439.5H632.7M639.3,445.7V711M593.9,445.7H639.3M645.9,451.9V711M593.9,451.9H645.9M652.4,458V711M593.9,458H652.4M659,464.2V711M593.9,464.2H659M665.6,470.4V711M593.9,470.4H665.6M672.2,476.5V711M593.9,476.5H672.2M678.7,482.7V711M593.9,482.7H678.7M685.3,488.9V711M593.9,488.9H685.3M691.9,495V711M593.9,495H691.9M698.4,501.2V711M593.9,501.2H698.4M705,507.4V711M593.9,507.4H705M711.6,513.6V711M593.9,513.6H711.6M718.2,519.7V711M593.9,519.7H718.2M724.7,525.9V711M593.9,525.9H724.7M731.3,532.1V711M593.9,532.1H731.3M737.9,538.2V711M593.9,538.2H737.9M744.4,544.4V711M593.9,544.4H744.4M751,550.6V711M593.9,550.6H751M757.6,556.7V711M593.9,556.7H757.6M764.2,562.9V711M593.9,562.9H764.2M770.7,569.1V711M593.9,569.1H770.7M777.3,575.3V711M593.9,575.3H777.3M783.9,581.4V711M593.9,581.4H783.9M790.5,587.6V711M593.9,587.6H790.5M797,593.8V711M593.9,593.8H797M803.6,599.9V711M593.9,599.9H803.6M810.2,606.1V711M593.9,606.1H810.2M816.7,612.3V711M593.9,612.3H816.7M823.3,618.4V711M593.9,618.4H823.3M829.9,624.6V711M593.9,624.6H829.9M836.5,630.8V711M593.9,630.8H836.5M843,637V711M593.9,637H843M849.6,643.1V711M593.9,643.1H849.6M856.2,649.3V711M593.9,649.3H856.2M862.7,655.5V711M593.9,655.5H862.7M869.3,661.6V711M593.9,661.6H869.3M875.9,667.8V711M593.9,667.8H875.9M882.5,674V711M593.9,674H882.5M889,680.1V711M593.9,680.1H889M895.6,686.3V711M593.9,686.3H895.6M902.2,692.5V711M593.9,692.5H902.2M908.8,698.7V711M593.9,698.7H908.8M915.3,704.8V711M593.9,704.8H915.3" stroke="#fff" stroke-opacity="0.27" stroke-width="0.75" fill="none"/>
<path d="M1059,395.3h6.4v6.1h-6.4z" fill="#3e0a54"/>
<path d="M1059,401.2h6.4v6.6h-6.4zM1059,407.7h6.4v6.6h-6.4zM1059,414.1h6.4v6.6h-6.4zM1059,420.6h6.4v6.6h-6.4zM1059,427h6.4v6.6h-6.4zM1059,433.5h6.4v6.6h-6.4zM1059,439.9h6.4v6.6h-6.4zM1059,446.4h6.4v6.6h-6.4zM1059,452.8h6.4v6.6h-6.4zM1059,459.3h6.4v6.6h-6.4zM1059,465.7h6.4v6.6h-6.4z" fill="#432e77"/>
<path d="M1059,472.2h6.4v6.6h-6.4zM1059,478.6h6.4v6.6h-6.4zM1059,485.1h6.4v6.6h-6.4zM1059,491.5h6.4v6.6h-6.4zM1059,498h6.4v6.6h-6.4zM1059,504.4h6.4v6.6h-6.4zM1059,510.9h6.4v6.6h-6.4zM1059,517.3h6.4v6.6h-6.4zM1059,523.8h6.4v6.6h-6.4zM1059,530.2h6.4v6.6h-6.4zM1059,536.7h6.4v6.6h-6.4zM1059,543.1h6.4v6.6h-6.4zM1059,549.5h6.4v6.6h-6.4zM1059,556h6.4v6.6h-6.4zM1059,562.4h6.4v6.6h-6.4zM1059,568.9h6.4v6.6h-6.4zM1059,575.3h6.4v6.6h-6.4zM1059,581.8h6.4v6.6h-6.4zM1059,588.2h6.4v6.6h-6.4z" fill="#433079"/>
<path d="M1059,594.7h6.4v6.6h-6.4zM1059,601.1h6.4v6.6h-6.4zM1059,607.6h6.4v6.6h-6.4zM1059,614h6.4v6.6h-6.4zM1059,620.5h6.4v6.6h-6.4zM1059,626.9h6.4v6.6h-6.4zM1059,633.4h6.4v6.6h-6.4zM1059,639.8h6.4v6.6h-6.4zM1059,646.3h6.4v6.6h-6.4zM1059,652.7h6.4v6.6h-6.4zM1059,659.2h6.4v6.6h-6.4zM1059,665.6h6.4v6.6h-6.4zM1059,672.1h6.4v6.6h-6.4zM1059,678.5h6.4v6.6h-6.4zM1059,685h6.4v6.6h-6.4zM1059,691.4h6.4v6.6h-6.4zM1059,697.9h6.4v6.6h-6.4zM1059,704.3h6.4v6.6h-6.4z" fill="#43347b"/>
<path d="M1059,710.8h6.4v6.6h-6.4z" fill="#43377d"/>
<path d="M1072.1,407.7h7v6.6h-7z" fill="#76c470"/>
<path d="M1072.1,414.1h7v6.6h-7zM1072.1,420.6h7v6.6h-7z" fill="#7ac76e"/>
<path d="M1072.1,427h7v6.6h-7zM1072.1,433.5h7v6.6h-7z" fill="#7ec86c"/>
<path d="M1078.9,414.1h7v6.6h-7zM1078.9,420.6h7v6.6h-7zM1072.1,439.9h7v6.6h-7zM1072.1,446.4h7v6.6h-7zM1072.1,452.8h7v6.6h-7z" fill="#82ca69"/>
<path d="M1078.9,427h7v6.6h-7zM1078.9,433.5h7v6.6h-7zM1072.1,459.3h7v6.6h-7zM1072.1,465.7h7v6.6h-7zM1072.1,472.2h7v6.6h-7z" fill="#88cd67"/>
<path d="M1085.8,420.6h7v6.6h-7zM1085.8,427h7v6.6h-7zM1078.9,439.9h7v6.6h-7zM1078.9,446.4h7v6.6h-7zM1078.9,452.8h7v6.6h-7zM1072.1,478.6h7v6.6h-7zM1072.1,485.1h7v6.6h-7zM1072.1,491.5h7v6.6h-7zM1072.1,498h7v6.6h-7zM1072.1,504.4h7v6.6h-7zM1072.1,510.9h7v6.6h-7zM1072.1,517.3h7v6.6h-7zM1072.1,549.5h7v6.6h-7z" fill="#8bce65"/>
<path d="M1092.6,427h7v6.6h-7zM1085.8,433.5h7v6.6h-7zM1085.8,439.9h7v6.6h-7zM1078.9,459.3h7v6.6h-7zM1078.9,465.7h7v6.6h-7zM1078.9,472.2h7v6.6h-7zM1072.1,523.8h7v6.6h-7zM1072.1,530.2h7v6.6h-7zM1072.1,536.7h7v6.6h-7zM1072.1,543.1h7v6.6h-7zM1072.1,556h7v6.6h-7zM1072.1,562.4h7v6.6h-7zM1072.1,568.9h7v6.6h-7zM1072.1,575.3h7v6.6h-7zM1072.1,581.8h7v6.6h-7zM1072.1,588.2h7v6.6h-7zM1072.1,594.7h7v6.6h-7zM1072.1,601.1h7v6.6h-7zM1072.1,607.6h7v6.6h-7zM1072.1,614h7v6.6h-7zM1072.1,620.5h7v6.6h-7zM1072.1,626.9h7v6.6h-7zM1072.1,633.4h7v6.6h-7zM1072.1,652.7h7v6.6h-7zM1072.1,665.6h7v6.6h-7zM1072.1,672.1h7v6.6h-7zM1072.1,678.5h7v6.6h-7zM1072.1,685h7v6.6h-7zM1072.1,697.9h7v6.6h-7zM1072.1,710.8h7v6.6h-7z" fill="#90d062"/>
<path d="M1065.2,401.2h7v6.6h-7zM1092.6,433.5h13.8v6.6h-13.8zM1092.6,439.9h20.7v6.6h-20.7zM1085.8,446.4h20.7v6.6h-20.7zM1085.8,452.8h7v6.6h-7zM1085.8,459.3h7v6.6h-7zM1085.8,465.7h7v6.6h-7zM1078.9,478.6h7v6.6h-7zM1078.9,485.1h7v6.6h-7zM1078.9,491.5h7v6.6h-7zM1078.9,498h7v6.6h-7zM1078.9,504.4h7v6.6h-7zM1078.9,510.9h7v6.6h-7zM1072.1,639.8h7v6.6h-7zM1072.1,646.3h7v6.6h-7zM1072.1,659.2h7v6.6h-7zM1072.1,691.4h7v6.6h-7zM1072.1,704.3h7v6.6h-7z" fill="#96d260"/>
<path d="M1065.2,407.7h7v6.6h-7zM1106.3,446.4h13.8v6.6h-13.8zM1092.6,452.8h20.7v6.6h-20.7zM1120,452.8h7v6.6h-7zM1092.6,459.3h20.7v6.6h-20.7zM1120,459.3h7v6.6h-7zM1092.6,465.7h20.7v6.6h-20.7zM1120,465.7h7v6.6h-7zM1085.8,472.2h7v6.6h-7zM1085.8,478.6h7v6.6h-7zM1085.8,485.1h7v6.6h-7zM1085.8,491.5h7v6.6h-7zM1085.8,498h7v6.6h-7zM1078.9,517.3h7v6.6h-7zM1078.9,523.8h7v6.6h-7zM1078.9,530.2h7v6.6h-7zM1078.9,536.7h7v6.6h-7zM1078.9,543.1h7v6.6h-7zM1078.9,549.5h7v6.6h-7zM1078.9,556h7v6.6h-7zM1078.9,562.4h7v6.6h-7zM1078.9,568.9h7v6.6h-7zM1078.9,575.3h7v6.6h-7zM1078.9,581.8h7v6.6h-7zM1078.9,588.2h7v6.6h-7zM1078.9,594.7h7v6.6h-7zM1078.9,601.1h7v6.6h-7zM1078.9,607.6h7v6.6h-7zM1078.9,614h7v6.6h-7zM1078.9,665.6h7v6.6h-7zM1078.9,685h7v6.6h-7z" fill="#9ad35e"/>
<path d="M1065.2,414.1h7v6.6h-7zM1113.2,452.8h7v6.6h-7zM1113.2,459.3h7v6.6h-7zM1113.2,465.7h7v6.6h-7zM1092.6,472.2h20.7v6.6h-20.7zM1120,472.2h7v6.6h-7zM1092.6,478.6h20.7v6.6h-20.7zM1120,478.6h7v6.6h-7zM1092.6,485.1h20.7v6.6h-20.7zM1120,485.1h7v6.6h-7zM1092.6,491.5h20.7v6.6h-20.7zM1120,491.5h7v6.6h-7zM1092.6,498h13.8v6.6h-13.8zM1120,498h7v6.6h-7zM1085.8,504.4h7v6.6h-7zM1085.8,510.9h7v6.6h-7zM1085.8,517.3h7v6.6h-7zM1085.8,523.8h7v6.6h-7zM1085.8,530.2h7v6.6h-7zM1085.8,536.7h7v6.6h-7zM1085.8,543.1h7v6.6h-7zM1085.8,549.5h7v6.6h-7zM1085.8,556h7v6.6h-7zM1078.9,620.5h7v6.6h-7zM1078.9,626.9h7v6.6h-7zM1078.9,633.4h7v6.6h-7zM1078.9,639.8h7v6.6h-7zM1078.9,646.3h7v6.6h-7zM1078.9,652.7h7v6.6h-7zM1078.9,659.2h7v6.6h-7zM1078.9,672.1h7v6.6h-7zM1078.9,678.5h7v6.6h-7zM1078.9,691.4h7v6.6h-7zM1078.9,697.9h7v6.6h-7zM1078.9,704.3h7v6.6h-7zM1078.9,710.8h7v6.6h-7z" fill="#a0d55b"/>
<path d="M1065.2,420.6h7v6.6h-7zM1126.9,459.3h7v6.6h-7zM1126.9,465.7h13.8v6.6h-13.8zM1113.2,472.2h7v6.6h-7zM1126.9,472.2h13.8v6.6h-13.8zM1113.2,478.6h7v6.6h-7zM1126.9,478.6h13.8v6.6h-13.8zM1113.2,485.1h7v6.6h-7zM1126.9,485.1h13.8v6.6h-13.8zM1113.2,491.5h7v6.6h-7zM1126.9,491.5h13.8v6.6h-13.8zM1106.3,498h13.8v6.6h-13.8zM1092.6,504.4h20.7v6.6h-20.7zM1120,504.4h7v6.6h-7zM1092.6,510.9h20.7v6.6h-20.7zM1120,510.9h7v6.6h-7zM1092.6,517.3h20.7v6.6h-20.7zM1120,517.3h7v6.6h-7zM1092.6,523.8h20.7v6.6h-20.7zM1120,523.8h7v6.6h-7zM1092.6,530.2h20.7v6.6h-20.7zM1120,530.2h7v6.6h-7zM1092.6,536.7h20.7v6.6h-20.7zM1120,536.7h7v6.6h-7zM1092.6,543.1h20.7v6.6h-20.7zM1120,543.1h7v6.6h-7zM1092.6,549.5h20.7v6.6h-20.7zM1120,549.5h7v6.6h-7zM1092.6,556h13.8v6.6h-13.8zM1120,556h7v6.6h-7zM1085.8,562.4h7v6.6h-7zM1099.5,562.4h7v6.6h-7zM1085.8,568.9h7v6.6h-7zM1085.8,575.3h7v6.6h-7zM1085.8,581.8h7v6.6h-7zM1085.8,588.2h7v6.6h-7zM1085.8,594.7h7v6.6h-7zM1085.8,601.1h7v6.6h-7zM1085.8,607.6h7v6.6h-7zM1085.8,614h7v6.6h-7zM1085.8,620.5h7v6.6h-7zM1085.8,626.9h7v6.6h-7zM1085.8,633.4h7v6.6h-7zM1085.8,639.8h7v6.6h-7zM1085.8,646.3h7v6.6h-7zM1085.8,652.7h7v6.6h-7zM1085.8,659.2h7v6.6h-7zM1085.8,665.6h7v6.6h-7zM1085.8,672.1h7v6.6h-7zM1085.8,678.5h7v6.6h-7zM1085.8,685h7v6.6h-7zM1085.8,691.4h7v6.6h-7zM1085.8,697.9h7v6.6h-7zM1085.8,704.3h7v6.6h-7zM1085.8,710.8h7v6.6h-7z" fill="#a6d759"/>
<path d="M1065.2,427h7v6.6h-7zM1065.2,433.5h7v6.6h-7zM1140.6,472.2h7v6.6h-7zM1140.6,478.6h13.8v6.6h-13.8zM1140.6,485.1h20.7v6.6h-20.7zM1147.4,491.5h7v6.6h-7zM1126.9,498h13.8v6.6h-13.8zM1113.2,504.4h7v6.6h-7zM1126.9,504.4h13.8v6.6h-13.8zM1113.2,510.9h7v6.6h-7zM1126.9,510.9h13.8v6.6h-13.8zM1113.2,517.3h7v6.6h-7zM1126.9,517.3h13.8v6.6h-13.8zM1113.2,523.8h7v6.6h-7zM1126.9,523.8h13.8v6.6h-13.8zM1113.2,530.2h7v6.6h-7zM1126.9,530.2h13.8v6.6h-13.8zM1113.2,536.7h7v6.6h-7zM1113.2,543.1h7v6.6h-7zM1113.2,549.5h7v6.6h-7zM1126.9,549.5h13.8v6.6h-13.8zM1106.3,556h13.8v6.6h-13.8zM1092.6,562.4h7v6.6h-7zM1106.3,562.4h7v6.6h-7zM1120,562.4h7v6.6h-7zM1092.6,568.9h20.7v6.6h-20.7zM1120,568.9h7v6.6h-7zM1092.6,575.3h20.7v6.6h-20.7zM1120,575.3h7v6.6h-7zM1092.6,581.8h20.7v6.6h-20.7zM1120,581.8h7v6.6h-7zM1092.6,588.2h20.7v6.6h-20.7zM1120,588.2h7v6.6h-7zM1092.6,594.7h20.7v6.6h-20.7zM1120,594.7h7v6.6h-7zM1092.6,601.1h20.7v6.6h-20.7zM1120,601.1h7v6.6h-7zM1092.6,607.6h20.7v6.6h-20.7zM1120,607.6h7v6.6h-7zM1092.6,614h20.7v6.6h-20.7zM1120,614h7v6.6h-7zM1092.6,620.5h20.7v6.6h-20.7zM1120,620.5h7v6.6h-7zM1092.6,626.9h20.7v6.6h-20.7zM1120,626.9h7v6.6h-7zM1092.6,633.4h20.7v6.6h-20.7zM1120,633.4h7v6.6h-7zM1092.6,639.8h20.7v6.6h-20.7zM1120,639.8h7v6.6h-7zM1092.6,646.3h20.7v6.6h-20.7zM1120,646.3h7v6.6h-7zM1092.6,652.7h20.7v6.6h-20.7zM1120,652.7h7v6.6h-7zM1092.6,659.2h20.7v6.6h-20.7zM1120,659.2h7v6.6h-7zM1092.6,665.6h20.7v6.6h-20.7zM1120,665.6h7v6.6h-7zM1092.6,672.1h20.7v6.6h-20.7zM1120,672.1h7v6.6h-7zM1092.6,678.5h20.7v6.6h-20.7zM1120,678.5h7v6.6h-7zM1092.6,685h20.7v6.6h-20.7zM1120,685h7v6.6h-7zM1092.6,691.4h20.7v6.6h-20.7zM1120,691.4h7v6.6h-7zM1092.6,697.9h20.7v6.6h-20.7zM1120,697.9h7v6.6h-7zM1092.6,704.3h20.7v6.6h-20.7zM1120,704.3h7v6.6h-7zM1092.6,710.8h20.7v6.6h-20.7zM1120,710.8h7v6.6h-7z" fill="#aad857"/>
<path d="M1065.2,439.9h7v6.6h-7zM1140.6,491.5h7v6.6h-7zM1154.3,491.5h13.8v6.6h-13.8zM1140.6,498h34.4v6.6h-34.4zM1140.6,504.4h20.7v6.6h-20.7zM1140.6,510.9h20.7v6.6h-20.7zM1140.6,517.3h20.7v6.6h-20.7zM1147.4,523.8h7v6.6h-7zM1140.6,530.2h20.7v6.6h-20.7zM1126.9,536.7h13.8v6.6h-13.8zM1147.4,536.7h7v6.6h-7zM1126.9,543.1h13.8v6.6h-13.8zM1147.4,543.1h7v6.6h-7zM1140.6,549.5h20.7v6.6h-20.7zM1126.9,556h13.8v6.6h-13.8zM1147.4,556h7v6.6h-7zM1113.2,562.4h7v6.6h-7zM1126.9,562.4h13.8v6.6h-13.8zM1113.2,568.9h7v6.6h-7zM1126.9,568.9h13.8v6.6h-13.8zM1113.2,575.3h7v6.6h-7zM1126.9,575.3h13.8v6.6h-13.8zM1113.2,581.8h7v6.6h-7zM1126.9,581.8h13.8v6.6h-13.8zM1113.2,588.2h7v6.6h-7zM1126.9,588.2h13.8v6.6h-13.8zM1113.2,594.7h7v6.6h-7zM1126.9,594.7h13.8v6.6h-13.8zM1113.2,601.1h7v6.6h-7zM1126.9,601.1h13.8v6.6h-13.8zM1113.2,607.6h7v6.6h-7zM1126.9,607.6h13.8v6.6h-13.8zM1113.2,614h7v6.6h-7zM1126.9,614h13.8v6.6h-13.8zM1113.2,620.5h7v6.6h-7zM1126.9,620.5h13.8v6.6h-13.8zM1113.2,626.9h7v6.6h-7zM1126.9,626.9h13.8v6.6h-13.8zM1113.2,633.4h7v6.6h-7zM1126.9,633.4h13.8v6.6h-13.8zM1113.2,639.8h7v6.6h-7zM1126.9,639.8h13.8v6.6h-13.8zM1113.2,646.3h7v6.6h-7zM1126.9,646.3h13.8v6.6h-13.8zM1113.2,652.7h7v6.6h-7zM1126.9,652.7h13.8v6.6h-13.8zM1113.2,659.2h7v6.6h-7zM1126.9,659.2h13.8v6.6h-13.8zM1113.2,665.6h7v6.6h-7zM1126.9,665.6h13.8v6.6h-13.8zM1113.2,672.1h7v6.6h-7zM1126.9,672.1h13.8v6.6h-13.8zM1113.2,678.5h7v6.6h-7zM1126.9,678.5h13.8v6.6h-13.8zM1113.2,685h7v6.6h-7zM1126.9,685h13.8v6.6h-13.8zM1113.2,691.4h7v6.6h-7zM1113.2,697.9h7v6.6h-7zM1126.9,697.9h13.8v6.6h-13.8zM1113.2,704.3h7v6.6h-7zM1126.9,704.3h7v6.6h-7zM1113.2,710.8h7v6.6h-7zM1126.9,710.8h13.8v6.6h-13.8z" fill="#b0d955"/>
<path d="M1065.2,446.4h7v6.6h-7zM1065.2,452.8h7v6.6h-7zM1161.1,504.4h20.7v6.6h-20.7zM1161.1,510.9h27.5v6.6h-27.5zM1161.1,517.3h13.8v6.6h-13.8zM1140.6,523.8h7v6.6h-7zM1154.3,523.8h20.7v6.6h-20.7zM1161.1,530.2h13.8v6.6h-13.8zM1140.6,536.7h7v6.6h-7zM1154.3,536.7h20.7v6.6h-20.7zM1140.6,543.1h7v6.6h-7zM1154.3,543.1h20.7v6.6h-20.7zM1161.1,549.5h13.8v6.6h-13.8zM1140.6,556h7v6.6h-7zM1154.3,556h20.7v6.6h-20.7zM1140.6,562.4h34.4v6.6h-34.4zM1140.6,568.9h20.7v6.6h-20.7zM1168,568.9h7v6.6h-7zM1140.6,575.3h20.7v6.6h-20.7zM1168,575.3h7v6.6h-7zM1140.6,581.8h20.7v6.6h-20.7zM1168,581.8h7v6.6h-7zM1140.6,588.2h20.7v6.6h-20.7zM1140.6,594.7h20.7v6.6h-20.7zM1140.6,601.1h20.7v6.6h-20.7zM1168,601.1h7v6.6h-7zM1140.6,607.6h20.7v6.6h-20.7zM1140.6,614h20.7v6.6h-20.7zM1168,614h7v6.6h-7zM1140.6,620.5h20.7v6.6h-20.7zM1140.6,626.9h20.7v6.6h-20.7zM1140.6,633.4h20.7v6.6h-20.7zM1147.4,639.8h7v6.6h-7zM1140.6,646.3h20.7v6.6h-20.7zM1140.6,652.7h20.7v6.6h-20.7zM1140.6,659.2h20.7v6.6h-20.7zM1140.6,665.6h20.7v6.6h-20.7zM1140.6,672.1h20.7v6.6h-20.7zM1140.6,678.5h20.7v6.6h-20.7zM1140.6,685h20.7v6.6h-20.7zM1126.9,691.4h13.8v6.6h-13.8zM1147.4,691.4h7v6.6h-7zM1140.6,697.9h20.7v6.6h-20.7zM1133.7,704.3h7v6.6h-7zM1147.4,704.3h7v6.6h-7zM1140.6,710.8h20.7v6.6h-20.7z" fill="#b7db53"/>
<path d="M1065.2,459.3h7v6.6h-7zM1065.2,465.7h7v6.6h-7zM1174.8,517.3h20.7v6.6h-20.7zM1174.8,523.8h27.5v6.6h-27.5zM1174.8,530.2h27.5v6.6h-27.5zM1174.8,536.7h27.5v6.6h-27.5zM1174.8,543.1h27.5v6.6h-27.5zM1174.8,549.5h27.5v6.6h-27.5zM1174.8,556h27.5v6.6h-27.5zM1174.8,562.4h13.8v6.6h-13.8zM1161.1,568.9h7v6.6h-7zM1174.8,568.9h13.8v6.6h-13.8zM1161.1,575.3h7v6.6h-7zM1174.8,575.3h13.8v6.6h-13.8zM1161.1,581.8h7v6.6h-7zM1174.8,581.8h13.8v6.6h-13.8zM1161.1,588.2h27.5v6.6h-27.5zM1161.1,594.7h13.8v6.6h-13.8zM1161.1,601.1h7v6.6h-7zM1174.8,601.1h13.8v6.6h-13.8zM1161.1,607.6h27.5v6.6h-27.5zM1161.1,614h7v6.6h-7zM1174.8,614h13.8v6.6h-13.8zM1161.1,620.5h13.8v6.6h-13.8zM1161.1,626.9h13.8v6.6h-13.8zM1161.1,633.4h13.8v6.6h-13.8zM1140.6,639.8h7v6.6h-7zM1154.3,639.8h20.7v6.6h-20.7zM1161.1,646.3h13.8v6.6h-13.8zM1161.1,652.7h13.8v6.6h-13.8zM1161.1,659.2h13.8v6.6h-13.8zM1161.1,665.6h13.8v6.6h-13.8zM1181.7,665.6h7v6.6h-7zM1161.1,672.1h13.8v6.6h-13.8zM1161.1,678.5h13.8v6.6h-13.8zM1161.1,685h13.8v6.6h-13.8zM1140.6,691.4h7v6.6h-7zM1154.3,691.4h20.7v6.6h-20.7zM1161.1,697.9h13.8v6.6h-13.8zM1140.6,704.3h7v6.6h-7zM1154.3,704.3h20.7v6.6h-20.7zM1161.1,710.8h13.8v6.6h-13.8z" fill="#bbdc52"/>
<path d="M1065.2,472.2h7v6.6h-7zM1065.2,478.6h7v6.6h-7zM1202.2,530.2h7v6.6h-7zM1202.2,536.7h13.8v6.6h-13.8zM1202.2,543.1h13.8v6.6h-13.8zM1202.2,549.5h20.7v6.6h-20.7zM1202.2,556h13.8v6.6h-13.8zM1188.5,562.4h13.8v6.6h-13.8zM1209,562.4h7v6.6h-7zM1188.5,568.9h13.8v6.6h-13.8zM1209,568.9h7v6.6h-7zM1188.5,575.3h13.8v6.6h-13.8zM1188.5,581.8h13.8v6.6h-13.8zM1188.5,588.2h13.8v6.6h-13.8zM1174.8,594.7h27.5v6.6h-27.5zM1188.5,601.1h13.8v6.6h-13.8zM1188.5,607.6h13.8v6.6h-13.8zM1188.5,614h13.8v6.6h-13.8zM1174.8,620.5h27.5v6.6h-27.5zM1174.8,626.9h27.5v6.6h-27.5zM1174.8,633.4h27.5v6.6h-27.5zM1174.8,639.8h27.5v6.6h-27.5zM1174.8,646.3h27.5v6.6h-27.5zM1174.8,652.7h27.5v6.6h-27.5zM1174.8,659.2h27.5v6.6h-27.5zM1174.8,665.6h7v6.6h-7zM1188.5,665.6h13.8v6.6h-13.8zM1174.8,672.1h27.5v6.6h-27.5zM1174.8,678.5h27.5v6.6h-27.5zM1174.8,685h27.5v6.6h-27.5zM1174.8,691.4h27.5v6.6h-27.5zM1174.8,697.9h27.5v6.6h-27.5zM1174.8,704.3h27.5v6.6h-27.5zM1174.8,710.8h27.5v6.6h-27.5z" fill="#c1dd50"/>
<path d="M1065.2,485.1h7v6.6h-7zM1065.2,491.5h7v6.6h-7zM1065.2,498h7v6.6h-7zM1215.9,543.1h7v6.6h-7zM1222.7,549.5h7v6.6h-7zM1215.9,556h20.7v6.6h-20.7zM1202.2,562.4h7v6.6h-7zM1215.9,562.4h20.7v6.6h-20.7zM1202.2,568.9h7v6.6h-7zM1215.9,568.9h20.7v6.6h-20.7zM1202.2,575.3h34.4v6.6h-34.4zM1202.2,581.8h34.4v6.6h-34.4zM1202.2,588.2h34.4v6.6h-34.4zM1202.2,594.7h20.7v6.6h-20.7zM1229.6,594.7h7v6.6h-7zM1202.2,601.1h34.4v6.6h-34.4zM1202.2,607.6h34.4v6.6h-34.4zM1202.2,614h34.4v6.6h-34.4zM1202.2,620.5h20.7v6.6h-20.7zM1229.6,620.5h7v6.6h-7zM1202.2,626.9h20.7v6.6h-20.7zM1229.6,626.9h7v6.6h-7zM1202.2,633.4h20.7v6.6h-20.7zM1229.6,633.4h7v6.6h-7zM1202.2,639.8h13.8v6.6h-13.8zM1202.2,646.3h13.8v6.6h-13.8zM1229.6,646.3h7v6.6h-7zM1202.2,652.7h20.7v6.6h-20.7zM1229.6,652.7h7v6.6h-7zM1202.2,659.2h13.8v6.6h-13.8zM1229.6,659.2h7v6.6h-7zM1202.2,665.6h34.4v6.6h-34.4zM1202.2,672.1h13.8v6.6h-13.8zM1229.6,672.1h7v6.6h-7zM1202.2,678.5h13.8v6.6h-13.8zM1229.6,678.5h7v6.6h-7zM1202.2,685h20.7v6.6h-20.7zM1229.6,685h7v6.6h-7zM1202.2,691.4h13.8v6.6h-13.8zM1202.2,697.9h20.7v6.6h-20.7zM1229.6,697.9h7v6.6h-7zM1202.2,704.3h13.8v6.6h-13.8zM1202.2,710.8h20.7v6.6h-20.7zM1229.6,710.8h7v6.6h-7z" fill="#c8df4f"/>
<path d="M1065.2,504.4h7v6.6h-7zM1065.2,510.9h7v6.6h-7zM1065.2,517.3h7v6.6h-7zM1065.2,523.8h7v6.6h-7zM1236.4,562.4h7v6.6h-7zM1236.4,568.9h13.8v6.6h-13.8zM1236.4,575.3h20.7v6.6h-20.7zM1236.4,581.8h27.5v6.6h-27.5zM1236.4,588.2h34.4v6.6h-34.4zM1222.7,594.7h7v6.6h-7zM1236.4,594.7h27.5v6.6h-27.5zM1236.4,601.1h34.4v6.6h-34.4zM1236.4,607.6h34.4v6.6h-34.4zM1236.4,614h34.4v6.6h-34.4zM1222.7,620.5h7v6.6h-7zM1236.4,620.5h13.8v6.6h-13.8zM1257,620.5h7v6.6h-7zM1222.7,626.9h7v6.6h-7zM1236.4,626.9h27.5v6.6h-27.5zM1222.7,633.4h7v6.6h-7zM1236.4,633.4h13.8v6.6h-13.8zM1257,633.4h7v6.6h-7zM1215.9,639.8h34.4v6.6h-34.4zM1215.9,646.3h13.8v6.6h-13.8zM1236.4,646.3h13.8v6.6h-13.8zM1222.7,652.7h7v6.6h-7zM1236.4,652.7h13.8v6.6h-13.8zM1257,652.7h7v6.6h-7zM1215.9,659.2h13.8v6.6h-13.8zM1236.4,659.2h13.8v6.6h-13.8zM1236.4,665.6h34.4v6.6h-34.4zM1215.9,672.1h13.8v6.6h-13.8zM1236.4,672.1h13.8v6.6h-13.8zM1215.9,678.5h13.8v6.6h-13.8zM1236.4,678.5h13.8v6.6h-13.8zM1222.7,685h7v6.6h-7zM1236.4,685h27.5v6.6h-27.5zM1215.9,691.4h27.5v6.6h-27.5zM1222.7,697.9h7v6.6h-7zM1236.4,697.9h13.8v6.6h-13.8zM1257,697.9h7v6.6h-7zM1215.9,704.3h34.4v6.6h-34.4zM1222.7,710.8h7v6.6h-7zM1236.4,710.8h13.8v6.6h-13.8zM1257,710.8h7v6.6h-7z" fill="#ccdf4e"/>
<path d="M1065.2,530.2h7v6.6h-7zM1065.2,536.7h7v6.6h-7zM1065.2,543.1h7v6.6h-7zM1065.2,549.5h7v6.6h-7zM1065.2,556h7v6.6h-7zM1263.8,594.7h13.8v6.6h-13.8zM1270.7,601.1h7v6.6h-7zM1270.7,607.6h7v6.6h-7zM1284.4,607.6h7v6.6h-7zM1270.7,614h7v6.6h-7zM1284.4,614h7v6.6h-7zM1250.1,620.5h7v6.6h-7zM1263.8,620.5h13.8v6.6h-13.8zM1284.4,620.5h7v6.6h-7zM1263.8,626.9h13.8v6.6h-13.8zM1284.4,626.9h7v6.6h-7zM1250.1,633.4h7v6.6h-7zM1263.8,633.4h13.8v6.6h-13.8zM1284.4,633.4h7v6.6h-7zM1250.1,639.8h20.7v6.6h-20.7zM1284.4,639.8h7v6.6h-7zM1250.1,646.3h20.7v6.6h-20.7zM1284.4,646.3h7v6.6h-7zM1250.1,652.7h7v6.6h-7zM1263.8,652.7h13.8v6.6h-13.8zM1284.4,652.7h7v6.6h-7zM1250.1,659.2h20.7v6.6h-20.7zM1284.4,659.2h7v6.6h-7zM1270.7,665.6h7v6.6h-7zM1284.4,665.6h7v6.6h-7zM1325.5,665.6h7v6.6h-7zM1250.1,672.1h20.7v6.6h-20.7zM1284.4,672.1h7v6.6h-7zM1250.1,678.5h27.5v6.6h-27.5zM1284.4,678.5h7v6.6h-7zM1263.8,685h13.8v6.6h-13.8zM1284.4,685h7v6.6h-7zM1325.5,685h7v6.6h-7zM1243.3,691.4h27.5v6.6h-27.5zM1284.4,691.4h7v6.6h-7zM1250.1,697.9h7v6.6h-7zM1263.8,697.9h13.8v6.6h-13.8zM1284.4,697.9h7v6.6h-7zM1250.1,704.3h20.7v6.6h-20.7zM1284.4,704.3h7v6.6h-7zM1250.1,710.8h7v6.6h-7zM1263.8,710.8h13.8v6.6h-13.8zM1284.4,710.8h7v6.6h-7z" fill="#d3e14e"/>
<path d="M1065.2,562.4h7v6.6h-7zM1065.2,568.9h7v6.6h-7zM1065.2,575.3h7v6.6h-7zM1065.2,581.8h7v6.6h-7zM1065.2,588.2h7v6.6h-7zM1065.2,594.7h7v6.6h-7zM1065.2,601.1h7v6.6h-7zM1277.5,601.1h7v6.6h-7zM1065.2,607.6h7v6.6h-7zM1277.5,607.6h7v6.6h-7zM1065.2,614h7v6.6h-7zM1277.5,614h7v6.6h-7zM1291.2,614h7v6.6h-7zM1065.2,620.5h7v6.6h-7zM1277.5,620.5h7v6.6h-7zM1291.2,620.5h13.8v6.6h-13.8zM1065.2,626.9h7v6.6h-7zM1277.5,626.9h7v6.6h-7zM1291.2,626.9h20.7v6.6h-20.7zM1277.5,633.4h7v6.6h-7zM1291.2,633.4h20.7v6.6h-20.7zM1270.7,639.8h13.8v6.6h-13.8zM1291.2,639.8h13.8v6.6h-13.8zM1270.7,646.3h13.8v6.6h-13.8zM1291.2,646.3h13.8v6.6h-13.8zM1325.5,646.3h7v6.6h-7zM1277.5,652.7h7v6.6h-7zM1291.2,652.7h20.7v6.6h-20.7zM1325.5,652.7h7v6.6h-7zM1270.7,659.2h13.8v6.6h-13.8zM1291.2,659.2h13.8v6.6h-13.8zM1325.5,659.2h7v6.6h-7zM1277.5,665.6h7v6.6h-7zM1291.2,665.6h27.5v6.6h-27.5zM1270.7,672.1h13.8v6.6h-13.8zM1291.2,672.1h13.8v6.6h-13.8zM1325.5,672.1h7v6.6h-7zM1277.5,678.5h7v6.6h-7zM1291.2,678.5h13.8v6.6h-13.8zM1325.5,678.5h7v6.6h-7zM1277.5,685h7v6.6h-7zM1291.2,685h27.5v6.6h-27.5zM1270.7,691.4h13.8v6.6h-13.8zM1291.2,691.4h13.8v6.6h-13.8zM1325.5,691.4h7v6.6h-7zM1277.5,697.9h7v6.6h-7zM1291.2,697.9h20.7v6.6h-20.7zM1325.5,697.9h7v6.6h-7zM1270.7,704.3h13.8v6.6h-13.8zM1291.2,704.3h13.8v6.6h-13.8zM1325.5,704.3h7v6.6h-7zM1277.5,710.8h7v6.6h-7zM1291.2,710.8h13.8v6.6h-13.8zM1325.5,710.8h7v6.6h-7z" fill="#dae24e"/>
<path d="M1065.2,633.4h7v6.6h-7zM1311.8,633.4h7v6.6h-7zM1065.2,639.8h7v6.6h-7zM1304.9,639.8h20.7v6.6h-20.7zM1065.2,646.3h7v6.6h-7zM1304.9,646.3h20.7v6.6h-20.7zM1065.2,652.7h7v6.6h-7zM1311.8,652.7h13.8v6.6h-13.8zM1332.3,652.7h7v6.6h-7zM1065.2,659.2h7v6.6h-7zM1304.9,659.2h20.7v6.6h-20.7zM1332.3,659.2h13.8v6.6h-13.8zM1065.2,665.6h7v6.6h-7zM1318.6,665.6h7v6.6h-7zM1332.3,665.6h20.7v6.6h-20.7zM1065.2,672.1h7v6.6h-7zM1304.9,672.1h20.7v6.6h-20.7zM1332.3,672.1h27.5v6.6h-27.5zM1065.2,678.5h7v6.6h-7zM1304.9,678.5h20.7v6.6h-20.7zM1332.3,678.5h27.5v6.6h-27.5zM1065.2,685h7v6.6h-7zM1318.6,685h7v6.6h-7zM1332.3,685h34.4v6.6h-34.4zM1065.2,691.4h7v6.6h-7zM1304.9,691.4h20.7v6.6h-20.7zM1332.3,691.4h13.8v6.6h-13.8zM1065.2,697.9h7v6.6h-7zM1311.8,697.9h13.8v6.6h-13.8zM1332.3,697.9h34.4v6.6h-34.4zM1380.3,697.9h7v6.6h-7zM1065.2,704.3h7v6.6h-7zM1304.9,704.3h20.7v6.6h-20.7zM1332.3,704.3h13.8v6.6h-13.8zM1352.9,704.3h7v6.6h-7zM1380.3,704.3h7v6.6h-7zM1065.2,710.8h7v6.6h-7zM1304.9,710.8h20.7v6.6h-20.7zM1332.3,710.8h27.5v6.6h-27.5zM1380.3,710.8h7v6.6h-7z" fill="#dee34e"/>
<path d="M1359.7,678.5h7v6.6h-7zM1366.6,685h7v6.6h-7zM1346,691.4h20.7v6.6h-20.7zM1366.6,697.9h7v6.6h-7zM1346,704.3h7v6.6h-7zM1359.7,704.3h13.8v6.6h-13.8zM1359.7,710.8h13.8v6.6h-13.8zM1387.1,710.8h7v6.6h-7z" fill="#e4e44f"/>
<path d="M1366.6,691.4h13.8v6.6h-13.8zM1373.4,697.9h7v6.6h-7zM1373.4,704.3h7v6.6h-7zM1387.1,704.3h7v6.6h-7zM1373.4,710.8h7v6.6h-7zM1394,710.8h7v6.6h-7z" fill="#ebe550"/>
<path d="M1065.2,401.2V717.2M1059,401.2H1065.2M1072.1,407.7V717.2M1059,407.7H1072.1M1078.9,414.1V717.2M1059,414.1H1078.9M1085.8,420.6V717.2M1059,420.6H1085.8M1092.6,427V717.2M1059,427H1092.6M1099.5,433.5V717.2M1059,433.5H1099.5M1106.3,439.9V717.2M1059,439.9H1106.3M1113.2,446.4V717.2M1059,446.4H1113.2M1120,452.8V717.2M1059,452.8H1120M1126.9,459.3V717.2M1059,459.3H1126.9M1133.7,465.7V717.2M1059,465.7H1133.7M1140.6,472.2V717.2M1059,472.2H1140.6M1147.4,478.6V717.2M1059,478.6H1147.4M1154.3,485.1V717.2M1059,485.1H1154.3M1161.1,491.5V717.2M1059,491.5H1161.1M1168,498V717.2M1059,498H1168M1174.8,504.4V717.2M1059,504.4H1174.8M1181.7,510.9V717.2M1059,510.9H1181.7M1188.5,517.3V717.2M1059,517.3H1188.5M1195.4,523.8V717.2M1059,523.8H1195.4M1202.2,530.2V717.2M1059,530.2H1202.2M1209,536.7V717.2M1059,536.7H1209M1215.9,543.1V717.2M1059,543.1H1215.9M1222.7,549.5V717.2M1059,549.5H1222.7M1229.6,556V717.2M1059,556H1229.6M1236.4,562.4V717.2M1059,562.4H1236.4M1243.3,568.9V717.2M1059,568.9H1243.3M1250.1,575.3V717.2M1059,575.3H1250.1M1257,581.8V717.2M1059,581.8H1257M1263.8,588.2V717.2M1059,588.2H1263.8M1270.7,594.7V717.2M1059,594.7H1270.7M1277.5,601.1V717.2M1059,601.1H1277.5M1284.4,607.6V717.2M1059,607.6H1284.4M1291.2,614V717.2M1059,614H1291.2M1298.1,620.5V717.2M1059,620.5H1298.1M1304.9,626.9V717.2M1059,626.9H1304.9M1311.8,633.4V717.2M1059,633.4H1311.8M1318.6,639.8V717.2M1059,639.8H1318.6M1325.5,646.3V717.2M1059,646.3H1325.5M1332.3,652.7V717.2M1059,652.7H1332.3M1339.2,659.2V717.2M1059,659.2H1339.2M1346,665.6V717.2M1059,665.6H1346M1352.9,672.1V717.2M1059,672.1H1352.9M1359.7,678.5V717.2M1059,678.5H1359.7M1366.6,685V717.2M1059,685H1366.6M1373.4,691.4V717.2M1059,691.4H1373.4M1380.3,697.9V717.2M1059,697.9H1380.3M1387.1,704.3V717.2M1059,704.3H1387.1M1394,710.8V717.2M1059,710.8H1394" stroke="#fff" stroke-opacity="0.27" stroke-width="0.75" fill="none"/>
<defs><linearGradient id="vg" x1="0" y1="1" x2="0" y2="0"><stop offset="0%" stop-color="#3e0851"/><stop offset="3.1%" stop-color="#40125c"/><stop offset="6.2%" stop-color="#421b66"/><stop offset="9.4%" stop-color="#43256f"/><stop offset="12.5%" stop-color="#432e77"/><stop offset="15.6%" stop-color="#43377d"/><stop offset="18.8%" stop-color="#424081"/><stop offset="21.9%" stop-color="#414985"/><stop offset="25%" stop-color="#405287"/><stop offset="28.1%" stop-color="#3f5a89"/><stop offset="31.2%" stop-color="#3f628a"/><stop offset="34.4%" stop-color="#3f698b"/><stop offset="37.5%" stop-color="#40718b"/><stop offset="40.6%" stop-color="#41788c"/><stop offset="43.8%" stop-color="#42808c"/><stop offset="46.9%" stop-color="#44878c"/><stop offset="50%" stop-color="#468e8c"/><stop offset="53.1%" stop-color="#49968b"/><stop offset="56.2%" stop-color="#4c9d89"/><stop offset="59.4%" stop-color="#51a586"/><stop offset="62.5%" stop-color="#56ac83"/><stop offset="65.6%" stop-color="#5db37f"/><stop offset="68.8%" stop-color="#65ba7a"/><stop offset="71.9%" stop-color="#6fc074"/><stop offset="75%" stop-color="#7ac76e"/><stop offset="78.1%" stop-color="#88cd67"/><stop offset="81.2%" stop-color="#96d260"/><stop offset="84.4%" stop-color="#a6d759"/><stop offset="87.5%" stop-color="#b7db53"/><stop offset="90.6%" stop-color="#c8df4f"/><stop offset="93.8%" stop-color="#dae24e"/><stop offset="96.9%" stop-color="#ebe550"/><stop offset="100%" stop-color="#fae855"/></linearGradient></defs>
<rect x="500.2" y="401.6" width="15" height="308" fill="url(#vg)" stroke="#222" stroke-opacity="0.35" stroke-width="0.6"/>
<path d="M515.2,425h3.4" stroke="#000" stroke-width="1.3"/>
<text x="521.6" y="434.4" font-size="27">20</text>
<path d="M515.2,497.5h3.4" stroke="#000" stroke-width="1.3"/>
<text x="521.6" y="506.9" font-size="27">0</text>
<path d="M515.2,570.8h3.4" stroke="#000" stroke-width="1.3"/>
<text x="521.6" y="580.2" font-size="27">−20</text>
<path d="M515.2,643.8h3.4" stroke="#000" stroke-width="1.3"/>
<text x="521.6" y="653.2" font-size="27">−40</text>
<rect x="943.1" y="403.1" width="14.8" height="308.5" fill="url(#vg)" stroke="#222" stroke-opacity="0.35" stroke-width="0.6"/>
<path d="M957.9,417.1h3.4" stroke="#000" stroke-width="1.3"/>
<text x="964.3" y="426.5" font-size="27">0.50</text>
<path d="M957.9,487.7h3.4" stroke="#000" stroke-width="1.3"/>
<text x="964.3" y="497.1" font-size="27">0.25</text>
<path d="M957.9,559.5h3.4" stroke="#000" stroke-width="1.3"/>
<text x="964.3" y="568.9" font-size="27">0.00</text>
<path d="M957.9,630.5h3.4" stroke="#000" stroke-width="1.3"/>
<text x="964.3" y="639.9" font-size="27">−0.25</text>
<path d="M957.9,701.1h3.4" stroke="#000" stroke-width="1.3"/>
<text x="964.3" y="710.5" font-size="27">−0.50</text>
<rect x="1421.9" y="395.1" width="17.1" height="322.8" fill="url(#vg)" stroke="#222" stroke-opacity="0.35" stroke-width="0.6"/>
<path d="M1439,488.5h3.4" stroke="#000" stroke-width="1.3"/>
<text x="1445.4" y="497.9" font-size="27">200</text>
<path d="M1439,608.6h3.4" stroke="#000" stroke-width="1.3"/>
<text x="1445.4" y="618" font-size="27">100</text>
<path d="M159.2,367.8H144A8.5,8.5 0 0 0 135.5,376.3V392.9M135.5,413.8V441.1M135.5,463.1V490.4M135.5,512.4V539.7M135.5,561.7V589M135.5,611V638.3M135.5,660.3V687.6M135.5,709.8V719.9A8.5,8.5 0 0 0 144,728.4H147.7M169.2,728.4H175.5A8.5,8.5 0 0 0 184,719.9V712.3M184,416.8V444.2M184,466.1V493.5M184,515.4V542.8M184,564.7V592.1M184,614V641.4M184,663.3V690.7M180,369.1A8.5,8.5 0 0 1 184,376.3V395.5" fill="none" stroke="#ea3323" stroke-width="7"/>
<path d="M600.7,376.9H585.8A8.5,8.5 0 0 0 577.3,385.4V401.4M577.3,422.9V450.3M577.3,472.2V499.6M577.3,521.5V548.9M577.3,570.8V598.2M577.3,620.1V647.5M577.3,669.4V696.8M577.3,718.1V728.4A8.5,8.5 0 0 0 585.8,736.9H589.7M611.2,736.9H617.4A8.5,8.5 0 0 0 625.9,728.4V720.3M625.9,424.9V452.3M625.9,474.2V501.6M625.9,523.5V550.9M625.9,572.8V600.2M625.9,622.1V649.5M625.9,671.4V698.8M621.9,378.2A8.5,8.5 0 0 1 625.9,385.4V403.7" fill="none" stroke="#ea3323" stroke-width="7"/>
<path d="M1071.5,376.4H1056.4A8.5,8.5 0 0 0 1047.9,384.9V400.5M1047.9,422V449.4M1047.9,471.3V498.7M1047.9,520.6V548M1047.9,569.9V597.3M1047.9,619.2V646.6M1047.9,668.5V695.9M1047.9,717.4V728A8.5,8.5 0 0 0 1056.4,736.5H1059.9M1081.2,736.5H1087.8A8.5,8.5 0 0 0 1096.3,728V720.7M1096.3,425.3V452.7M1096.3,474.6V502M1096.3,523.9V551.3M1096.3,573.2V600.6M1096.3,622.5V649.9M1096.3,671.8V699.2M1092.3,377.7A8.5,8.5 0 0 1 1096.3,384.9V404.1" fill="none" stroke="#000" stroke-width="7"/>
<text x="378" y="380.5" font-size="37.6" text-anchor="middle">Block</text>
<text x="809.8" y="383.5" font-size="37.6" text-anchor="middle">Block</text>
<text x="1275.4" y="384.6" font-size="37.6" text-anchor="middle">Block</text>
<text x="200.9" y="426.7" font-size="37.2">Sink</text>
<text x="645.0" y="427.5" font-size="37.2">Sink</text>
<text x="1113.2" y="425.4" font-size="37.6">No Sink</text>
<text transform="translate(357.37,159.90) scale(1.195,1)" font-size="31.27" font-style="italic" font-weight="bold">h</text>
<text transform="translate(377.86,145.60) scale(1.230,1)" font-size="20.47" font-style="italic">l</text>
<text transform="translate(377.68,167.90) scale(1.265,1)" font-size="19.09">1</text>
<text transform="translate(355.67,202.60) scale(1.265,1)" font-size="29.55" font-style="italic" font-weight="bold">h</text>
<text transform="translate(373.86,190.10) scale(1.221,1)" font-size="20.61" font-style="italic">l</text>
<text transform="translate(375.11,210.40) scale(1.297,1)" font-size="20.95" font-style="italic">t</text>
<text transform="translate(384.08,216.82) scale(1.054,1)" font-size="32.43">≠</text>
<text transform="translate(401.58,210.60) scale(1.275,1)" font-size="18.93">1</text>
<text transform="translate(834.41,161.60) scale(1.024,1)" font-size="27.96" font-style="italic" font-weight="bold">k</text>
<text transform="translate(851.14,148.50) scale(1.150,1)" font-size="18.88" font-style="italic">l</text>
<text transform="translate(851.43,168.80) scale(1.090,1)" font-size="19.54">1</text>
<text transform="translate(834.41,201.50) scale(1.024,1)" font-size="27.96" font-style="italic" font-weight="bold">k</text>
<text transform="translate(851.14,188.40) scale(1.177,1)" font-size="18.45" font-style="italic">l</text>
<text transform="translate(851.51,208.90) scale(1.108,1)" font-size="20.25" font-style="italic">t</text>
<text transform="translate(860.23,215.76) scale(0.959,1)" font-size="34.51">≠</text>
<text transform="translate(878.48,209.50) scale(1.146,1)" font-size="19.09">1</text>
<text transform="translate(1403.02,77.48) scale(1.274,1)" font-size="32.39" font-style="italic" font-weight="bold">v</text>
<text transform="translate(1421.79,64.50) scale(1.064,1)" font-size="21.33" font-style="italic">l</text>
<text transform="translate(1422.03,85.60) scale(1.277,1)" font-size="17.57">1</text>
<text transform="translate(1400.43,120.98) scale(1.232,1)" font-size="32.39" font-style="italic" font-weight="bold">v</text>
<text transform="translate(1419.07,108.40) scale(0.975,1)" font-size="21.76" font-style="italic">l</text>
<text transform="translate(1419.08,128.70) scale(1.264,1)" font-size="20.25" font-style="italic">t</text>
<text transform="translate(1427.72,135.12) scale(1.173,1)" font-size="32.43">≠</text>
<text transform="translate(1448.30,128.70) scale(1.011,1)" font-size="21.36">1</text>
<text transform="translate(305.32,486.93) scale(1.086,1)" font-size="35.08" font-style="italic" font-weight="bold">q</text>
<text transform="translate(324.88,494.18) scale(1.434,1)" font-size="22.52" font-style="italic">t</text>
<text transform="translate(324.91,469.20) scale(1.149,1)" font-size="22.77" font-style="italic">l</text>
<text transform="translate(335.54,470.07) scale(0.913,1)" font-size="24.92" font-style="italic">,</text>
<text transform="translate(346.85,469.20) scale(1.404,1)" font-size="22.77" font-style="italic">h</text>
<text transform="translate(366.28,486.80) scale(1.094,1)" font-size="34.59" font-style="italic" font-weight="bold">k</text>
<text transform="translate(386.38,469.20) scale(1.257,1)" font-size="22.77" font-style="italic">l</text>
<text transform="translate(397.77,470.07) scale(0.757,1)" font-size="24.92" font-style="italic">,</text>
<text transform="translate(408.95,469.20) scale(1.404,1)" font-size="22.77" font-style="italic">h</text>
<text transform="translate(390.24,496.29) scale(1.145,1)" font-size="24.00" font-style="italic">j</text>
<path d="M428.9,444.6H447M438,444.6V460.4" stroke="#333" stroke-width="1.3" fill="none"/>
<text transform="translate(728.61,490.10) scale(1.014,1)" font-size="30.77">c</text>
<text transform="translate(742.04,490.10) scale(1.073,1)" font-size="30.77">o</text>
<text transform="translate(757.88,490.10) scale(1.125,1)" font-size="30.77">s</text>
<text transform="translate(772.07,490.27) scale(0.847,1)" font-size="35.84">(</text>
<text transform="translate(784.09,490.13) scale(1.061,1)" font-size="30.41" font-style="italic" font-weight="bold">q</text>
<text transform="translate(799.95,497.09) scale(1.528,1)" font-size="21.65" font-style="italic">t</text>
<text transform="translate(801.68,474.50) scale(0.975,1)" font-size="19.74" font-style="italic">l</text>
<text transform="translate(810.39,474.93) scale(0.950,1)" font-size="22.58" font-style="italic">,</text>
<text transform="translate(816.00,474.50) scale(1.403,1)" font-size="19.74" font-style="italic">h</text>
<text transform="translate(833.45,490.27) scale(0.924,1)" font-size="32.71">,</text>
<text transform="translate(847.13,490.10) scale(1.099,1)" font-size="30.99" font-style="italic" font-weight="bold">k</text>
<text transform="translate(865.32,474.50) scale(1.125,1)" font-size="19.74" font-style="italic">l</text>
<text transform="translate(874.89,474.93) scale(0.950,1)" font-size="22.58" font-style="italic">,</text>
<text transform="translate(880.45,474.50) scale(1.475,1)" font-size="19.74" font-style="italic">h</text>
<text transform="translate(868.53,498.22) scale(1.269,1)" font-size="20.11" font-style="italic">j</text>
<text transform="translate(897.42,490.27) scale(0.847,1)" font-size="35.84">)</text>
<path d="M1221.2,460V521.3M1228.6,460V521.3M1292.8,460V521.3M1300.5,460V521.3M1336,460V521.3M1343.5,460V521.3M1409.5,460V521.3M1417,460V521.3" stroke="#111" stroke-width="1.5" fill="none"/>
<text transform="translate(1235.33,498.44) scale(1.190,1)" font-size="31.28" font-style="italic" font-weight="bold">q</text>
<text transform="translate(1253.61,507.78) scale(1.504,1)" font-size="22.52" font-style="italic">t</text>
<text transform="translate(1254.49,482.20) scale(1.119,1)" font-size="22.05" font-style="italic">l</text>
<text transform="translate(1264.32,483.37) scale(0.939,1)" font-size="24.92" font-style="italic">,</text>
<text transform="translate(1269.74,482.20) scale(1.460,1)" font-size="22.05" font-style="italic">h</text>
<circle cx="1318.4" cy="490.8" r="1.9" fill="#000"/>
<text transform="translate(1350.59,499.40) scale(1.100,1)" font-size="34.01" font-style="italic" font-weight="bold">k</text>
<text transform="translate(1370.46,482.20) scale(1.141,1)" font-size="22.05" font-style="italic">l</text>
<text transform="translate(1380.44,483.37) scale(0.913,1)" font-size="24.92" font-style="italic">,</text>
<text transform="translate(1386.44,482.20) scale(1.460,1)" font-size="22.05" font-style="italic">h</text>
<text transform="translate(1373.37,508.64) scale(1.357,1)" font-size="20.46" font-style="italic">j</text>
<g transform="translate(77.3,232.2) rotate(-90)">
<path d="M0.8,-8.8C6.5,-11.5 15.8,-20.5 15.6,-24.6C15.4,-27.8 11.6,-27.8 9.8,-23.6C6.8,-16.5 4.6,-7 5.2,-3.4C5.8,0 9.6,0.2 14.6,-5" fill="none" stroke="#000" stroke-width="1.9" stroke-linecap="round"/>
<text transform="translate(14.53,5.20) scale(1.244,1)" font-size="25.07">2</text>
<text x="36.6" y="0" font-size="36.7">-norm</text>
</g>
</svg>
<div class="cap" style="top:744.2px;word-spacing:-0.54px">Figure 2:<span style="margin-left:2.5px"></span> In LLaMA3-8B Base, (<i>Top</i>) the first token has significantly larger <span class="m"><svg class="ell" width="15.3" height="30" viewBox="0 -28 15.3 30"><path d="M0.2,-3.1C3.5,-5.2 7.5,-9.5 10.6,-14C13.4,-18 15.6,-22 15.3,-24.6C15,-26.9 13.3,-27.4 11.9,-26.2C9.2,-23.8 5.2,-12.5 4.7,-6C4.4,-2 6.2,0.4 8.4,0.3C10.2,0.2 12.2,-2 13.5,-3.6" fill="none" stroke="#000" stroke-width="1.25" stroke-linecap="round"/><path d="M11.3,-25.4C8.9,-22.4 5.3,-12 4.8,-6C4.6,-3.6 5.2,-1.4 6.5,-0.5" fill="none" stroke="#000" stroke-width="2.3" stroke-linecap="round"/></svg><sub>2</sub></span>-norm of hidden states,</div>
<div class="cap" style="top:784.7px;word-spacing:-2.02px">but much smaller <span class="m"><svg class="ell" width="15.3" height="30" viewBox="0 -28 15.3 30"><path d="M0.2,-3.1C3.5,-5.2 7.5,-9.5 10.6,-14C13.4,-18 15.6,-22 15.3,-24.6C15,-26.9 13.3,-27.4 11.9,-26.2C9.2,-23.8 5.2,-12.5 4.7,-6C4.4,-2 6.2,0.4 8.4,0.3C10.2,0.2 12.2,-2 13.5,-3.6" fill="none" stroke="#000" stroke-width="1.25" stroke-linecap="round"/><path d="M11.3,-25.4C8.9,-22.4 5.3,-12 4.8,-6C4.6,-3.6 5.2,-1.4 6.5,-0.5" fill="none" stroke="#000" stroke-width="2.3" stroke-linecap="round"/></svg><sub>2</sub></span>-norm of keys and values than the mean of other tokens;<span style="margin-left:2px"></span> (<i>Bottom</i>) cosine similarity</div>
<div class="cap" style="top:825.2px;word-spacing:0.02px">instead of norm product contributes to attention sink.<span style="margin-left:2px"></span> We delay more visualizations to Appendix <span style="color:#ea3323;-webkit-text-stroke-color:#ea3323">C.3</span>.</div>
</body></html>
